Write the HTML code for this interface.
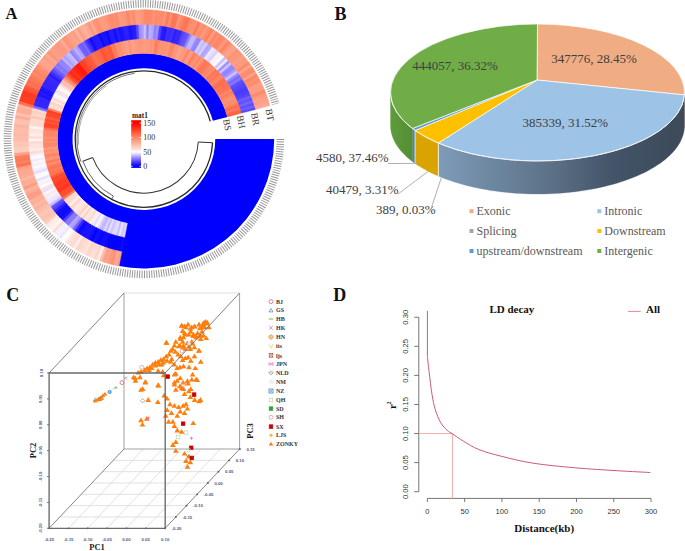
<!DOCTYPE html>
<html><head><meta charset="utf-8"><style>
html,body{margin:0;padding:0;background:#fff;overflow:hidden;}
svg{display:block;}
</style></head><body>
<svg width="685" height="551" viewBox="0 0 685 551">
<rect width="685" height="551" fill="#fff"/>
<g>
<text x="5.5" y="19.3" font-family="Liberation Serif" font-weight="bold" font-size="16.5" fill="#111">A</text>
<text x="334.6" y="20" font-family="Liberation Serif" font-weight="bold" font-size="18" fill="#111">B</text>
<text x="6.2" y="301" font-family="Liberation Serif" font-weight="bold" font-size="18" fill="#111">C</text>
<text x="333.2" y="301.1" font-family="Liberation Serif" font-weight="bold" font-size="18" fill="#111">D</text>
<g id="A">
<g transform="translate(143.9,139.1) scale(1.008,1) translate(-143.9,-139.1)">
<path d="M273.20,139.10A129.3,129.3 0 0 1 117.90,265.76L129.66,208.45A70.8,70.8 0 0 0 214.70,139.10Z" fill="#0000ff"/>
<path d="M127.53,223.32A85.8,85.8 0 1 1 226.78,116.89L212.29,120.78A70.8,70.8 0 1 0 130.39,208.60Z" fill="#0000ff"/>
<path d="M124.74,237.66A100.4,100.4 0 0 1 122.08,237.10L125.26,222.85A85.8,85.8 0 0 0 127.53,223.32Z" fill="#dbd3ff" stroke="#dbd3ff" stroke-width="0.45"/>
<path d="M122.51,237.20A100.4,100.4 0 0 1 119.87,236.58L123.36,222.41A85.8,85.8 0 0 0 125.62,222.93Z" fill="#cdc5ff" stroke="#cdc5ff" stroke-width="0.45"/>
<path d="M120.29,236.68A100.4,100.4 0 0 1 117.66,236.01L121.48,221.92A85.8,85.8 0 0 0 123.72,222.49Z" fill="#eae3ff" stroke="#eae3ff" stroke-width="0.45"/>
<path d="M118.08,236.12A100.4,100.4 0 0 1 115.47,235.39L119.60,221.39A85.8,85.8 0 0 0 121.84,222.02Z" fill="#c4bbff" stroke="#c4bbff" stroke-width="0.45"/>
<path d="M115.89,235.51A100.4,100.4 0 0 1 113.29,234.72L117.74,220.82A85.8,85.8 0 0 0 119.96,221.49Z" fill="#e5ddff" stroke="#e5ddff" stroke-width="0.45"/>
<path d="M113.71,234.85A100.4,100.4 0 0 1 111.13,234.00L115.90,220.20A85.8,85.8 0 0 0 118.10,220.93Z" fill="#dcd4ff" stroke="#dcd4ff" stroke-width="0.45"/>
<path d="M111.54,234.14A100.4,100.4 0 0 1 108.99,233.23L114.06,219.54A85.8,85.8 0 0 0 116.25,220.32Z" fill="#cbc3ff" stroke="#cbc3ff" stroke-width="0.45"/>
<path d="M109.40,233.39A100.4,100.4 0 0 1 106.86,232.42L112.25,218.85A85.8,85.8 0 0 0 114.41,219.67Z" fill="#e6deff" stroke="#e6deff" stroke-width="0.45"/>
<path d="M107.27,232.58A100.4,100.4 0 0 1 104.75,231.55L110.44,218.11A85.8,85.8 0 0 0 112.59,218.98Z" fill="#c4bbff" stroke="#c4bbff" stroke-width="0.45"/>
<path d="M105.16,231.72A100.4,100.4 0 0 1 102.66,230.64L108.66,217.33A85.8,85.8 0 0 0 110.79,218.25Z" fill="#dbd3ff" stroke="#dbd3ff" stroke-width="0.45"/>
<path d="M103.06,230.82A100.4,100.4 0 0 1 100.60,229.68L106.89,216.51A85.8,85.8 0 0 0 109.00,217.48Z" fill="#beb4ff" stroke="#beb4ff" stroke-width="0.45"/>
<path d="M100.99,229.87A100.4,100.4 0 0 1 98.55,228.68L105.15,215.65A85.8,85.8 0 0 0 107.23,216.67Z" fill="#c7bfff" stroke="#c7bfff" stroke-width="0.45"/>
<path d="M98.94,228.87A100.4,100.4 0 0 1 96.53,227.62L103.42,214.75A85.8,85.8 0 0 0 105.48,215.82Z" fill="#e6deff" stroke="#e6deff" stroke-width="0.45"/>
<path d="M96.92,227.83A100.4,100.4 0 0 1 94.54,226.53L101.72,213.81A85.8,85.8 0 0 0 103.75,214.93Z" fill="#fef5f2" stroke="#fef5f2" stroke-width="0.45"/>
<path d="M94.92,226.74A100.4,100.4 0 0 1 92.57,225.38L100.03,212.84A85.8,85.8 0 0 0 102.04,214.00Z" fill="#e6deff" stroke="#e6deff" stroke-width="0.45"/>
<path d="M92.94,225.61A100.4,100.4 0 0 1 90.62,224.20L98.37,211.82A85.8,85.8 0 0 0 100.35,213.03Z" fill="#f2eeff" stroke="#f2eeff" stroke-width="0.45"/>
<path d="M90.99,224.43A100.4,100.4 0 0 1 88.70,222.97L96.73,210.77A85.8,85.8 0 0 0 98.69,212.02Z" fill="#feece7" stroke="#feece7" stroke-width="0.45"/>
<path d="M89.07,223.21A100.4,100.4 0 0 1 86.82,221.69L95.12,209.68A85.8,85.8 0 0 0 97.04,210.98Z" fill="#fddad1" stroke="#fddad1" stroke-width="0.45"/>
<path d="M87.18,221.94A100.4,100.4 0 0 1 84.96,220.38L93.53,208.56A85.8,85.8 0 0 0 95.43,209.89Z" fill="#fde4dd" stroke="#fde4dd" stroke-width="0.45"/>
<path d="M85.31,220.63A100.4,100.4 0 0 1 83.13,219.02L91.97,207.40A85.8,85.8 0 0 0 93.83,208.78Z" fill="#fde7e1" stroke="#fde7e1" stroke-width="0.45"/>
<path d="M83.48,219.28A100.4,100.4 0 0 1 81.33,217.62L90.43,206.20A85.8,85.8 0 0 0 92.26,207.62Z" fill="#fcd1c3" stroke="#fcd1c3" stroke-width="0.45"/>
<path d="M81.67,217.89A100.4,100.4 0 0 1 79.57,216.18L88.92,204.97A85.8,85.8 0 0 0 90.72,206.43Z" fill="#feece8" stroke="#feece8" stroke-width="0.45"/>
<path d="M79.90,216.46A100.4,100.4 0 0 1 77.83,214.70L87.44,203.71A85.8,85.8 0 0 0 89.21,205.21Z" fill="#fccec0" stroke="#fccec0" stroke-width="0.45"/>
<path d="M78.16,214.99A100.4,100.4 0 0 1 76.14,213.18L85.99,202.41A85.8,85.8 0 0 0 87.72,203.95Z" fill="#fdddd4" stroke="#fdddd4" stroke-width="0.45"/>
<path d="M76.46,213.48A100.4,100.4 0 0 1 74.47,211.63L84.57,201.08A85.8,85.8 0 0 0 86.27,202.66Z" fill="#fde5de" stroke="#fde5de" stroke-width="0.45"/>
<path d="M74.79,211.93A100.4,100.4 0 0 1 72.84,210.03L83.18,199.72A85.8,85.8 0 0 0 84.84,201.34Z" fill="#fee9e3" stroke="#fee9e3" stroke-width="0.45"/>
<path d="M73.15,210.34A100.4,100.4 0 0 1 71.25,208.40L81.82,198.32A85.8,85.8 0 0 0 83.44,199.98Z" fill="#fde0d8" stroke="#fde0d8" stroke-width="0.45"/>
<path d="M71.56,208.72A100.4,100.4 0 0 1 69.70,206.74L80.49,196.90A85.8,85.8 0 0 0 82.08,198.59Z" fill="#fdd4c8" stroke="#fdd4c8" stroke-width="0.45"/>
<path d="M70.00,207.06A100.4,100.4 0 0 1 68.18,205.03L79.20,195.45A85.8,85.8 0 0 0 80.74,197.18Z" fill="#feefea" stroke="#feefea" stroke-width="0.45"/>
<path d="M68.47,205.36A100.4,100.4 0 0 1 66.71,203.30L77.93,193.96A85.8,85.8 0 0 0 79.44,195.73Z" fill="#fdddd4" stroke="#fdddd4" stroke-width="0.45"/>
<path d="M66.99,203.64A100.4,100.4 0 0 1 65.27,201.53L76.71,192.45A85.8,85.8 0 0 0 78.17,194.25Z" fill="#fdd9cf" stroke="#fdd9cf" stroke-width="0.45"/>
<path d="M65.54,201.87A100.4,100.4 0 0 1 63.88,199.73L75.51,190.91A85.8,85.8 0 0 0 76.94,192.75Z" fill="#fddad0" stroke="#fddad0" stroke-width="0.45"/>
<path d="M64.14,200.08A100.4,100.4 0 0 1 62.52,197.90L74.35,189.35A85.8,85.8 0 0 0 75.74,191.21Z" fill="#fd7e5e" stroke="#fd7e5e" stroke-width="0.45"/>
<path d="M62.78,198.26A100.4,100.4 0 0 1 61.21,196.04L73.23,187.76A85.8,85.8 0 0 0 74.57,189.65Z" fill="#ff5232" stroke="#ff5232" stroke-width="0.45"/>
<path d="M61.46,196.40A100.4,100.4 0 0 1 59.94,194.15L72.15,186.14A85.8,85.8 0 0 0 73.45,188.07Z" fill="#ff4f2f" stroke="#ff4f2f" stroke-width="0.45"/>
<path d="M60.18,194.51A100.4,100.4 0 0 1 58.71,192.23L71.10,184.50A85.8,85.8 0 0 0 72.35,186.46Z" fill="#ff472a" stroke="#ff472a" stroke-width="0.45"/>
<path d="M58.94,192.60A100.4,100.4 0 0 1 57.53,190.28L70.09,182.84A85.8,85.8 0 0 0 71.30,184.82Z" fill="#ff341b" stroke="#ff341b" stroke-width="0.45"/>
<path d="M57.75,190.66A100.4,100.4 0 0 1 56.39,188.31L69.11,181.15A85.8,85.8 0 0 0 70.28,183.16Z" fill="#ff3a20" stroke="#ff3a20" stroke-width="0.45"/>
<path d="M56.60,188.69A100.4,100.4 0 0 1 55.29,186.31L68.18,179.45A85.8,85.8 0 0 0 69.30,181.48Z" fill="#ff4024" stroke="#ff4024" stroke-width="0.45"/>
<path d="M55.50,186.70A100.4,100.4 0 0 1 54.24,184.29L67.28,177.72A85.8,85.8 0 0 0 68.36,179.78Z" fill="#ff3a20" stroke="#ff3a20" stroke-width="0.45"/>
<path d="M54.44,184.68A100.4,100.4 0 0 1 53.24,182.24L66.43,175.97A85.8,85.8 0 0 0 67.45,178.05Z" fill="#ff4225" stroke="#ff4225" stroke-width="0.45"/>
<path d="M53.43,182.64A100.4,100.4 0 0 1 52.29,180.18L65.61,174.20A85.8,85.8 0 0 0 66.59,176.31Z" fill="#ff4a2c" stroke="#ff4a2c" stroke-width="0.45"/>
<path d="M52.47,180.58A100.4,100.4 0 0 1 51.38,178.09L64.83,172.42A85.8,85.8 0 0 0 65.76,174.54Z" fill="#ff4628" stroke="#ff4628" stroke-width="0.45"/>
<path d="M51.55,178.49A100.4,100.4 0 0 1 50.52,175.98L64.10,170.62A85.8,85.8 0 0 0 64.98,172.76Z" fill="#ff5737" stroke="#ff5737" stroke-width="0.45"/>
<path d="M50.68,176.39A100.4,100.4 0 0 1 49.71,173.85L63.40,168.80A85.8,85.8 0 0 0 64.24,170.96Z" fill="#fd7555" stroke="#fd7555" stroke-width="0.45"/>
<path d="M49.86,174.26A100.4,100.4 0 0 1 48.94,171.70L62.75,166.96A85.8,85.8 0 0 0 63.53,169.15Z" fill="#fd7656" stroke="#fd7656" stroke-width="0.45"/>
<path d="M49.08,172.12A100.4,100.4 0 0 1 48.23,169.54L62.14,165.11A85.8,85.8 0 0 0 62.87,167.32Z" fill="#fd7b5b" stroke="#fd7b5b" stroke-width="0.45"/>
<path d="M48.36,169.96A100.4,100.4 0 0 1 47.56,167.36L61.57,163.25A85.8,85.8 0 0 0 62.25,165.47Z" fill="#fd7454" stroke="#fd7454" stroke-width="0.45"/>
<path d="M47.68,167.78A100.4,100.4 0 0 1 46.94,165.17L61.04,161.38A85.8,85.8 0 0 0 61.68,163.61Z" fill="#fd7d5d" stroke="#fd7d5d" stroke-width="0.45"/>
<path d="M47.06,165.59A100.4,100.4 0 0 1 46.38,162.96L60.56,159.49A85.8,85.8 0 0 0 61.14,161.74Z" fill="#fd9070" stroke="#fd9070" stroke-width="0.45"/>
<path d="M46.48,163.39A100.4,100.4 0 0 1 45.86,160.74L60.12,157.60A85.8,85.8 0 0 0 60.65,159.86Z" fill="#fd7959" stroke="#fd7959" stroke-width="0.45"/>
<path d="M45.96,161.17A100.4,100.4 0 0 1 45.40,158.52L59.72,155.69A85.8,85.8 0 0 0 60.20,157.96Z" fill="#fd9679" stroke="#fd9679" stroke-width="0.45"/>
<path d="M45.48,158.94A100.4,100.4 0 0 1 44.98,156.28L59.36,153.78A85.8,85.8 0 0 0 59.79,156.06Z" fill="#fd8d6d" stroke="#fd8d6d" stroke-width="0.45"/>
<path d="M45.06,156.71A100.4,100.4 0 0 1 44.62,154.03L59.05,151.86A85.8,85.8 0 0 0 59.43,154.15Z" fill="#fd8363" stroke="#fd8363" stroke-width="0.45"/>
<path d="M44.68,154.46A100.4,100.4 0 0 1 44.30,151.77L58.79,149.93A85.8,85.8 0 0 0 59.11,152.23Z" fill="#fd977b" stroke="#fd977b" stroke-width="0.45"/>
<path d="M44.36,152.20A100.4,100.4 0 0 1 44.04,149.51L58.56,147.99A85.8,85.8 0 0 0 58.83,150.30Z" fill="#fd8f6f" stroke="#fd8f6f" stroke-width="0.45"/>
<path d="M44.09,149.94A100.4,100.4 0 0 1 43.83,147.24L58.38,146.06A85.8,85.8 0 0 0 58.60,148.37Z" fill="#fc9c83" stroke="#fc9c83" stroke-width="0.45"/>
<path d="M43.87,147.68A100.4,100.4 0 0 1 43.67,144.97L58.25,144.11A85.8,85.8 0 0 0 58.41,146.43Z" fill="#fd8a6a" stroke="#fd8a6a" stroke-width="0.45"/>
<path d="M43.70,145.40A100.4,100.4 0 0 1 43.56,142.69L58.15,142.17A85.8,85.8 0 0 0 58.27,144.49Z" fill="#fd8767" stroke="#fd8767" stroke-width="0.45"/>
<path d="M43.58,143.13A100.4,100.4 0 0 1 43.51,140.41L58.11,140.22A85.8,85.8 0 0 0 58.17,142.54Z" fill="#fd8d6d" stroke="#fd8d6d" stroke-width="0.45"/>
<path d="M43.52,140.85A100.4,100.4 0 0 1 43.50,138.14L58.10,138.28A85.8,85.8 0 0 0 58.11,140.60Z" fill="#fd8363" stroke="#fd8363" stroke-width="0.45"/>
<path d="M43.50,138.57A100.4,100.4 0 0 1 43.55,135.86L58.14,136.33A85.8,85.8 0 0 0 58.10,138.65Z" fill="#fd9476" stroke="#fd9476" stroke-width="0.45"/>
<path d="M43.54,136.30A100.4,100.4 0 0 1 43.65,133.58L58.23,134.39A85.8,85.8 0 0 0 58.13,136.70Z" fill="#fd8666" stroke="#fd8666" stroke-width="0.45"/>
<path d="M43.63,134.02A100.4,100.4 0 0 1 43.80,131.31L58.36,132.44A85.8,85.8 0 0 0 58.21,134.76Z" fill="#fd8767" stroke="#fd8767" stroke-width="0.45"/>
<path d="M43.77,131.75A100.4,100.4 0 0 1 44.01,129.04L58.53,130.50A85.8,85.8 0 0 0 58.33,132.82Z" fill="#fd8666" stroke="#fd8666" stroke-width="0.45"/>
<path d="M43.96,129.48A100.4,100.4 0 0 1 44.26,126.78L58.75,128.57A85.8,85.8 0 0 0 58.50,130.88Z" fill="#fd6f4f" stroke="#fd6f4f" stroke-width="0.45"/>
<path d="M44.21,127.21A100.4,100.4 0 0 1 44.56,124.52L59.01,126.64A85.8,85.8 0 0 0 58.70,128.94Z" fill="#ff492b" stroke="#ff492b" stroke-width="0.45"/>
<path d="M44.50,124.95A100.4,100.4 0 0 1 44.92,122.27L59.31,124.72A85.8,85.8 0 0 0 58.96,127.01Z" fill="#ff4427" stroke="#ff4427" stroke-width="0.45"/>
<path d="M44.85,122.70A100.4,100.4 0 0 1 45.33,120.03L59.66,122.80A85.8,85.8 0 0 0 59.25,125.09Z" fill="#ff5333" stroke="#ff5333" stroke-width="0.45"/>
<path d="M45.25,120.46A100.4,100.4 0 0 1 45.79,117.80L60.05,120.90A85.8,85.8 0 0 0 59.59,123.17Z" fill="#ff4b2c" stroke="#ff4b2c" stroke-width="0.45"/>
<path d="M45.69,118.23A100.4,100.4 0 0 1 46.29,115.58L60.49,119.00A85.8,85.8 0 0 0 59.97,121.26Z" fill="#fe6040" stroke="#fe6040" stroke-width="0.45"/>
<path d="M46.19,116.00A100.4,100.4 0 0 1 46.85,113.37L60.97,117.11A85.8,85.8 0 0 0 60.40,119.36Z" fill="#ff4729" stroke="#ff4729" stroke-width="0.45"/>
<path d="M46.74,113.79A100.4,100.4 0 0 1 47.46,111.17L61.49,115.23A85.8,85.8 0 0 0 60.87,117.47Z" fill="#ff482a" stroke="#ff482a" stroke-width="0.45"/>
<path d="M47.34,111.59A100.4,100.4 0 0 1 48.12,108.99L62.05,113.37A85.8,85.8 0 0 0 61.38,115.59Z" fill="#ff3b20" stroke="#ff3b20" stroke-width="0.45"/>
<path d="M47.99,109.41A100.4,100.4 0 0 1 48.83,106.83L62.65,111.52A85.8,85.8 0 0 0 61.94,113.73Z" fill="#fd8363" stroke="#fd8363" stroke-width="0.45"/>
<path d="M48.69,107.24A100.4,100.4 0 0 1 49.58,104.68L63.30,109.68A85.8,85.8 0 0 0 62.53,111.88Z" fill="#fde0d8" stroke="#fde0d8" stroke-width="0.45"/>
<path d="M49.44,105.09A100.4,100.4 0 0 1 50.39,102.55L63.99,107.86A85.8,85.8 0 0 0 63.17,110.04Z" fill="#fddcd3" stroke="#fddcd3" stroke-width="0.45"/>
<path d="M50.23,102.96A100.4,100.4 0 0 1 51.24,100.44L64.72,106.06A85.8,85.8 0 0 0 63.85,108.21Z" fill="#fdd4c8" stroke="#fdd4c8" stroke-width="0.45"/>
<path d="M51.08,100.84A100.4,100.4 0 0 1 52.14,98.34L65.49,104.27A85.8,85.8 0 0 0 64.57,106.40Z" fill="#fee9e4" stroke="#fee9e4" stroke-width="0.45"/>
<path d="M51.97,98.74A100.4,100.4 0 0 1 53.09,96.27L66.30,102.50A85.8,85.8 0 0 0 65.34,104.61Z" fill="#fdd9cf" stroke="#fdd9cf" stroke-width="0.45"/>
<path d="M52.91,96.67A100.4,100.4 0 0 1 54.09,94.22L67.15,100.75A85.8,85.8 0 0 0 66.14,102.84Z" fill="#fef1ed" stroke="#fef1ed" stroke-width="0.45"/>
<path d="M53.89,94.62A100.4,100.4 0 0 1 55.13,92.20L68.04,99.02A85.8,85.8 0 0 0 66.98,101.08Z" fill="#fcfaff" stroke="#fcfaff" stroke-width="0.45"/>
<path d="M54.93,92.59A100.4,100.4 0 0 1 56.22,90.20L68.97,97.31A85.8,85.8 0 0 0 67.86,99.35Z" fill="#ede6ff" stroke="#ede6ff" stroke-width="0.45"/>
<path d="M56.00,90.58A100.4,100.4 0 0 1 57.35,88.22L69.93,95.62A85.8,85.8 0 0 0 68.79,97.63Z" fill="#fde0d8" stroke="#fde0d8" stroke-width="0.45"/>
<path d="M57.13,88.60A100.4,100.4 0 0 1 58.52,86.27L70.94,93.95A85.8,85.8 0 0 0 69.75,95.94Z" fill="#faf8ff" stroke="#faf8ff" stroke-width="0.45"/>
<path d="M58.29,86.64A100.4,100.4 0 0 1 59.75,84.34L71.98,92.31A85.8,85.8 0 0 0 70.74,94.27Z" fill="#fef5f3" stroke="#fef5f3" stroke-width="0.45"/>
<path d="M59.51,84.71A100.4,100.4 0 0 1 61.01,82.45L73.06,90.69A85.8,85.8 0 0 0 71.78,92.62Z" fill="#fdd9cf" stroke="#fdd9cf" stroke-width="0.45"/>
<path d="M60.76,82.81A100.4,100.4 0 0 1 62.32,80.58L74.18,89.09A85.8,85.8 0 0 0 72.85,91.00Z" fill="#fcbfac" stroke="#fcbfac" stroke-width="0.45"/>
<path d="M62.06,80.94A100.4,100.4 0 0 1 63.66,78.75L75.33,87.52A85.8,85.8 0 0 0 73.96,89.40Z" fill="#fcc1af" stroke="#fcc1af" stroke-width="0.45"/>
<path d="M63.40,79.10A100.4,100.4 0 0 1 65.05,76.94L76.52,85.98A85.8,85.8 0 0 0 75.11,87.82Z" fill="#fc9c82" stroke="#fc9c82" stroke-width="0.45"/>
<path d="M64.78,77.29A100.4,100.4 0 0 1 66.48,75.17L77.74,84.47A85.8,85.8 0 0 0 76.29,86.28Z" fill="#fd8060" stroke="#fd8060" stroke-width="0.45"/>
<path d="M66.21,75.51A100.4,100.4 0 0 1 67.95,73.43L79.00,82.98A85.8,85.8 0 0 0 77.50,84.76Z" fill="#fe5737" stroke="#fe5737" stroke-width="0.45"/>
<path d="M67.67,73.76A100.4,100.4 0 0 1 69.46,71.72L80.29,81.52A85.8,85.8 0 0 0 78.75,83.26Z" fill="#ff3d21" stroke="#ff3d21" stroke-width="0.45"/>
<path d="M69.17,72.05A100.4,100.4 0 0 1 71.01,70.05L81.61,80.09A85.8,85.8 0 0 0 80.04,81.80Z" fill="#ff2613" stroke="#ff2613" stroke-width="0.45"/>
<path d="M70.71,70.37A100.4,100.4 0 0 1 72.60,68.42L82.97,78.70A85.8,85.8 0 0 0 81.35,80.37Z" fill="#ff341b" stroke="#ff341b" stroke-width="0.45"/>
<path d="M72.29,68.73A100.4,100.4 0 0 1 74.22,66.82L84.35,77.33A85.8,85.8 0 0 0 82.70,78.96Z" fill="#ff2613" stroke="#ff2613" stroke-width="0.45"/>
<path d="M73.90,67.12A100.4,100.4 0 0 1 75.88,65.26L85.77,75.99A85.8,85.8 0 0 0 84.08,77.59Z" fill="#ff2412" stroke="#ff2412" stroke-width="0.45"/>
<path d="M75.56,65.55A100.4,100.4 0 0 1 77.57,63.73L87.22,74.69A85.8,85.8 0 0 0 85.49,76.25Z" fill="#ff150b" stroke="#ff150b" stroke-width="0.45"/>
<path d="M77.24,64.02A100.4,100.4 0 0 1 79.30,62.25L88.69,73.42A85.8,85.8 0 0 0 86.94,74.94Z" fill="#ff180c" stroke="#ff180c" stroke-width="0.45"/>
<path d="M78.96,62.53A100.4,100.4 0 0 1 81.06,60.80L90.20,72.19A85.8,85.8 0 0 0 88.41,73.66Z" fill="#ff3d21" stroke="#ff3d21" stroke-width="0.45"/>
<path d="M80.72,61.07A100.4,100.4 0 0 1 82.85,59.39L91.73,70.98A85.8,85.8 0 0 0 89.90,72.42Z" fill="#ff4125" stroke="#ff4125" stroke-width="0.45"/>
<path d="M82.50,59.66A100.4,100.4 0 0 1 84.67,58.03L93.29,69.82A85.8,85.8 0 0 0 91.43,71.21Z" fill="#ff492b" stroke="#ff492b" stroke-width="0.45"/>
<path d="M84.32,58.29A100.4,100.4 0 0 1 86.53,56.71L94.87,68.69A85.8,85.8 0 0 0 92.98,70.04Z" fill="#ff5636" stroke="#ff5636" stroke-width="0.45"/>
<path d="M86.17,56.96A100.4,100.4 0 0 1 88.41,55.43L96.48,67.59A85.8,85.8 0 0 0 94.56,68.90Z" fill="#fe5a3a" stroke="#fe5a3a" stroke-width="0.45"/>
<path d="M88.05,55.67A100.4,100.4 0 0 1 90.33,54.19L98.12,66.54A85.8,85.8 0 0 0 96.17,67.80Z" fill="#fe5c3c" stroke="#fe5c3c" stroke-width="0.45"/>
<path d="M89.96,54.42A100.4,100.4 0 0 1 92.27,53.00L99.77,65.52A85.8,85.8 0 0 0 97.80,66.74Z" fill="#fd6c4c" stroke="#fd6c4c" stroke-width="0.45"/>
<path d="M91.89,53.22A100.4,100.4 0 0 1 94.23,51.85L101.45,64.53A85.8,85.8 0 0 0 99.45,65.71Z" fill="#fd7656" stroke="#fd7656" stroke-width="0.45"/>
<path d="M93.85,52.06A100.4,100.4 0 0 1 96.22,50.74L103.16,63.59A85.8,85.8 0 0 0 101.13,64.72Z" fill="#fd6949" stroke="#fd6949" stroke-width="0.45"/>
<path d="M95.84,50.95A100.4,100.4 0 0 1 98.24,49.68L104.88,62.69A85.8,85.8 0 0 0 102.83,63.77Z" fill="#fd6a4a" stroke="#fd6a4a" stroke-width="0.45"/>
<path d="M97.85,49.88A100.4,100.4 0 0 1 100.28,48.67L106.62,61.82A85.8,85.8 0 0 0 104.55,62.86Z" fill="#fe6141" stroke="#fe6141" stroke-width="0.45"/>
<path d="M99.89,48.86A100.4,100.4 0 0 1 102.34,47.70L108.39,60.99A85.8,85.8 0 0 0 106.29,61.98Z" fill="#ff5131" stroke="#ff5131" stroke-width="0.45"/>
<path d="M101.95,47.89A100.4,100.4 0 0 1 104.43,46.78L110.17,60.21A85.8,85.8 0 0 0 108.05,61.15Z" fill="#fe5a3a" stroke="#fe5a3a" stroke-width="0.45"/>
<path d="M104.03,46.96A100.4,100.4 0 0 1 106.53,45.91L111.97,59.46A85.8,85.8 0 0 0 109.82,60.36Z" fill="#fe6040" stroke="#fe6040" stroke-width="0.45"/>
<path d="M106.13,46.08A100.4,100.4 0 0 1 108.66,45.09L113.78,58.76A85.8,85.8 0 0 0 111.62,59.60Z" fill="#fe5b3b" stroke="#fe5b3b" stroke-width="0.45"/>
<path d="M108.25,45.24A100.4,100.4 0 0 1 110.80,44.31L115.61,58.10A85.8,85.8 0 0 0 113.43,58.89Z" fill="#fe5737" stroke="#fe5737" stroke-width="0.45"/>
<path d="M110.39,44.46A100.4,100.4 0 0 1 112.96,43.59L117.46,57.48A85.8,85.8 0 0 0 115.26,58.22Z" fill="#fd8060" stroke="#fd8060" stroke-width="0.45"/>
<path d="M112.54,43.72A100.4,100.4 0 0 1 115.13,42.91L119.32,56.90A85.8,85.8 0 0 0 117.10,57.59Z" fill="#fd7757" stroke="#fd7757" stroke-width="0.45"/>
<path d="M114.71,43.04A100.4,100.4 0 0 1 117.32,42.28L121.19,56.36A85.8,85.8 0 0 0 118.96,57.01Z" fill="#fd8f6f" stroke="#fd8f6f" stroke-width="0.45"/>
<path d="M116.90,42.40A100.4,100.4 0 0 1 119.53,41.70L123.07,55.87A85.8,85.8 0 0 0 120.83,56.46Z" fill="#fd8f6f" stroke="#fd8f6f" stroke-width="0.45"/>
<path d="M119.10,41.81A100.4,100.4 0 0 1 121.74,41.18L124.96,55.42A85.8,85.8 0 0 0 122.71,55.96Z" fill="#fd9070" stroke="#fd9070" stroke-width="0.45"/>
<path d="M121.31,41.27A100.4,100.4 0 0 1 123.97,40.70L126.87,55.01A85.8,85.8 0 0 0 124.60,55.50Z" fill="#fc9b80" stroke="#fc9b80" stroke-width="0.45"/>
<path d="M123.54,40.79A100.4,100.4 0 0 1 126.21,40.27L128.78,54.64A85.8,85.8 0 0 0 126.50,55.08Z" fill="#fc9a7e" stroke="#fc9a7e" stroke-width="0.45"/>
<path d="M125.78,40.35A100.4,100.4 0 0 1 128.45,39.90L130.70,54.32A85.8,85.8 0 0 0 128.41,54.71Z" fill="#fca189" stroke="#fca189" stroke-width="0.45"/>
<path d="M128.02,39.96A100.4,100.4 0 0 1 130.71,39.57L132.63,54.04A85.8,85.8 0 0 0 130.33,54.38Z" fill="#fd9171" stroke="#fd9171" stroke-width="0.45"/>
<path d="M130.27,39.63A100.4,100.4 0 0 1 132.97,39.30L134.56,53.81A85.8,85.8 0 0 0 132.26,54.09Z" fill="#fca088" stroke="#fca088" stroke-width="0.45"/>
<path d="M132.53,39.35A100.4,100.4 0 0 1 135.24,39.07L136.50,53.62A85.8,85.8 0 0 0 134.19,53.85Z" fill="#fc9f86" stroke="#fc9f86" stroke-width="0.45"/>
<path d="M134.80,39.11A100.4,100.4 0 0 1 137.51,38.90L138.44,53.47A85.8,85.8 0 0 0 136.12,53.65Z" fill="#fc9a7f" stroke="#fc9a7f" stroke-width="0.45"/>
<path d="M137.07,38.93A100.4,100.4 0 0 1 139.78,38.78L140.38,53.37A85.8,85.8 0 0 0 138.06,53.50Z" fill="#fc9a7f" stroke="#fc9a7f" stroke-width="0.45"/>
<path d="M139.35,38.80A100.4,100.4 0 0 1 142.06,38.72L142.33,53.31A85.8,85.8 0 0 0 140.01,53.39Z" fill="#fd9476" stroke="#fd9476" stroke-width="0.45"/>
<path d="M141.62,38.73A100.4,100.4 0 0 1 144.34,38.70L144.27,53.30A85.8,85.8 0 0 0 141.95,53.32Z" fill="#fc9b81" stroke="#fc9b81" stroke-width="0.45"/>
<path d="M143.90,38.70A100.4,100.4 0 0 1 146.62,38.74L146.22,53.33A85.8,85.8 0 0 0 143.90,53.30Z" fill="#fc9c82" stroke="#fc9c82" stroke-width="0.45"/>
<path d="M146.18,38.73A100.4,100.4 0 0 1 148.89,38.82L148.17,53.41A85.8,85.8 0 0 0 145.85,53.32Z" fill="#fd977a" stroke="#fd977a" stroke-width="0.45"/>
<path d="M148.45,38.80A100.4,100.4 0 0 1 151.17,38.96L150.11,53.52A85.8,85.8 0 0 0 147.79,53.39Z" fill="#fd987c" stroke="#fd987c" stroke-width="0.45"/>
<path d="M150.73,38.93A100.4,100.4 0 0 1 153.44,39.15L152.05,53.69A85.8,85.8 0 0 0 149.74,53.50Z" fill="#fd9070" stroke="#fd9070" stroke-width="0.45"/>
<path d="M153.00,39.11A100.4,100.4 0 0 1 155.70,39.40L153.98,53.89A85.8,85.8 0 0 0 151.68,53.65Z" fill="#fc997d" stroke="#fc997d" stroke-width="0.45"/>
<path d="M155.27,39.35A100.4,100.4 0 0 1 157.96,39.69L155.92,54.15A85.8,85.8 0 0 0 153.61,53.85Z" fill="#fd7d5d" stroke="#fd7d5d" stroke-width="0.45"/>
<path d="M157.53,39.63A100.4,100.4 0 0 1 160.21,40.03L157.84,54.44A85.8,85.8 0 0 0 155.54,54.09Z" fill="#fd8565" stroke="#fd8565" stroke-width="0.45"/>
<path d="M159.78,39.96A100.4,100.4 0 0 1 162.45,40.43L159.76,54.78A85.8,85.8 0 0 0 157.47,54.38Z" fill="#fd9476" stroke="#fd9476" stroke-width="0.45"/>
<path d="M162.02,40.35A100.4,100.4 0 0 1 164.69,40.88L161.67,55.16A85.8,85.8 0 0 0 159.39,54.71Z" fill="#fd9273" stroke="#fd9273" stroke-width="0.45"/>
<path d="M164.26,40.79A100.4,100.4 0 0 1 166.91,41.37L163.57,55.58A85.8,85.8 0 0 0 161.30,55.08Z" fill="#fd9172" stroke="#fd9172" stroke-width="0.45"/>
<path d="M166.49,41.27A100.4,100.4 0 0 1 169.12,41.92L165.46,56.05A85.8,85.8 0 0 0 163.20,55.50Z" fill="#fd9273" stroke="#fd9273" stroke-width="0.45"/>
<path d="M168.70,41.81A100.4,100.4 0 0 1 171.32,42.52L167.33,56.56A85.8,85.8 0 0 0 165.09,55.96Z" fill="#fc9b80" stroke="#fc9b80" stroke-width="0.45"/>
<path d="M170.90,42.40A100.4,100.4 0 0 1 173.51,43.16L169.20,57.12A85.8,85.8 0 0 0 166.97,56.46Z" fill="#fd8666" stroke="#fd8666" stroke-width="0.45"/>
<path d="M173.09,43.04A100.4,100.4 0 0 1 175.67,43.86L171.05,57.71A85.8,85.8 0 0 0 168.84,57.01Z" fill="#fd8363" stroke="#fd8363" stroke-width="0.45"/>
<path d="M175.26,43.72A100.4,100.4 0 0 1 177.83,44.61L172.89,58.35A85.8,85.8 0 0 0 170.70,57.59Z" fill="#fd9678" stroke="#fd9678" stroke-width="0.45"/>
<path d="M177.41,44.46A100.4,100.4 0 0 1 179.96,45.40L174.72,59.03A85.8,85.8 0 0 0 172.54,58.22Z" fill="#fd9679" stroke="#fd9679" stroke-width="0.45"/>
<path d="M179.55,45.24A100.4,100.4 0 0 1 182.08,46.24L176.53,59.75A85.8,85.8 0 0 0 174.37,58.89Z" fill="#fca089" stroke="#fca089" stroke-width="0.45"/>
<path d="M181.67,46.08A100.4,100.4 0 0 1 184.18,47.13L178.32,60.51A85.8,85.8 0 0 0 176.18,59.60Z" fill="#fc9f86" stroke="#fc9f86" stroke-width="0.45"/>
<path d="M183.77,46.96A100.4,100.4 0 0 1 186.25,48.07L180.09,61.31A85.8,85.8 0 0 0 177.98,60.36Z" fill="#fd977b" stroke="#fd977b" stroke-width="0.45"/>
<path d="M185.85,47.89A100.4,100.4 0 0 1 188.31,49.05L181.85,62.15A85.8,85.8 0 0 0 179.75,61.15Z" fill="#fc987c" stroke="#fc987c" stroke-width="0.45"/>
<path d="M187.91,48.86A100.4,100.4 0 0 1 190.34,50.08L183.58,63.03A85.8,85.8 0 0 0 181.51,61.98Z" fill="#fd8565" stroke="#fd8565" stroke-width="0.45"/>
<path d="M189.95,49.88A100.4,100.4 0 0 1 192.34,51.16L185.30,63.95A85.8,85.8 0 0 0 183.25,62.86Z" fill="#fc997e" stroke="#fc997e" stroke-width="0.45"/>
<path d="M191.96,50.95A100.4,100.4 0 0 1 194.33,52.28L186.99,64.91A85.8,85.8 0 0 0 184.97,63.77Z" fill="#fc9c82" stroke="#fc9c82" stroke-width="0.45"/>
<path d="M193.95,52.06A100.4,100.4 0 0 1 196.28,53.45L188.67,65.90A85.8,85.8 0 0 0 186.67,64.72Z" fill="#fd7d5d" stroke="#fd7d5d" stroke-width="0.45"/>
<path d="M195.91,53.22A100.4,100.4 0 0 1 198.21,54.66L190.32,66.94A85.8,85.8 0 0 0 188.35,65.71Z" fill="#fd8b6b" stroke="#fd8b6b" stroke-width="0.45"/>
<path d="M197.84,54.42A100.4,100.4 0 0 1 200.12,55.91L191.94,68.01A85.8,85.8 0 0 0 190.00,66.74Z" fill="#fd9578" stroke="#fd9578" stroke-width="0.45"/>
<path d="M199.75,55.67A100.4,100.4 0 0 1 201.99,57.21L193.54,69.12A85.8,85.8 0 0 0 191.63,67.80Z" fill="#fd8868" stroke="#fd8868" stroke-width="0.45"/>
<path d="M201.63,56.96A100.4,100.4 0 0 1 203.83,58.55L195.12,70.26A85.8,85.8 0 0 0 193.24,68.90Z" fill="#fd977a" stroke="#fd977a" stroke-width="0.45"/>
<path d="M203.48,58.29A100.4,100.4 0 0 1 205.64,59.93L196.66,71.44A85.8,85.8 0 0 0 194.82,70.04Z" fill="#fd8565" stroke="#fd8565" stroke-width="0.45"/>
<path d="M205.30,59.66A100.4,100.4 0 0 1 207.42,61.35L198.19,72.66A85.8,85.8 0 0 0 196.37,71.21Z" fill="#fd7555" stroke="#fd7555" stroke-width="0.45"/>
<path d="M207.08,61.07A100.4,100.4 0 0 1 209.17,62.81L199.68,73.91A85.8,85.8 0 0 0 197.90,72.42Z" fill="#fd7858" stroke="#fd7858" stroke-width="0.45"/>
<path d="M208.84,62.53A100.4,100.4 0 0 1 210.89,64.31L201.14,75.19A85.8,85.8 0 0 0 199.39,73.66Z" fill="#fd7c5c" stroke="#fd7c5c" stroke-width="0.45"/>
<path d="M210.56,64.02A100.4,100.4 0 0 1 212.56,65.85L202.58,76.50A85.8,85.8 0 0 0 200.86,74.94Z" fill="#fd8a6a" stroke="#fd8a6a" stroke-width="0.45"/>
<path d="M212.24,65.55A100.4,100.4 0 0 1 214.21,67.43L203.98,77.85A85.8,85.8 0 0 0 202.31,76.25Z" fill="#fd8666" stroke="#fd8666" stroke-width="0.45"/>
<path d="M213.90,67.12A100.4,100.4 0 0 1 215.82,69.04L205.36,79.23A85.8,85.8 0 0 0 203.72,77.59Z" fill="#fd8c6c" stroke="#fd8c6c" stroke-width="0.45"/>
<path d="M215.51,68.73A100.4,100.4 0 0 1 217.39,70.69L206.70,80.64A85.8,85.8 0 0 0 205.10,78.96Z" fill="#fd7656" stroke="#fd7656" stroke-width="0.45"/>
<path d="M217.09,70.37A100.4,100.4 0 0 1 218.92,72.38L208.01,82.08A85.8,85.8 0 0 0 206.45,80.37Z" fill="#fd7d5d" stroke="#fd7d5d" stroke-width="0.45"/>
<path d="M218.63,72.05A100.4,100.4 0 0 1 220.42,74.10L209.29,83.55A85.8,85.8 0 0 0 207.76,81.80Z" fill="#fd7454" stroke="#fd7454" stroke-width="0.45"/>
<path d="M220.13,73.76A100.4,100.4 0 0 1 221.87,75.85L210.53,85.05A85.8,85.8 0 0 0 209.05,83.26Z" fill="#fd8262" stroke="#fd8262" stroke-width="0.45"/>
<path d="M221.59,75.51A100.4,100.4 0 0 1 223.29,77.63L211.74,86.57A85.8,85.8 0 0 0 210.30,84.76Z" fill="#fd8666" stroke="#fd8666" stroke-width="0.45"/>
<path d="M223.02,77.29A100.4,100.4 0 0 1 224.66,79.45L212.92,88.12A85.8,85.8 0 0 0 211.51,86.28Z" fill="#fd7353" stroke="#fd7353" stroke-width="0.45"/>
<path d="M224.40,79.10A100.4,100.4 0 0 1 225.99,81.30L214.05,89.70A85.8,85.8 0 0 0 212.69,87.82Z" fill="#fd6d4d" stroke="#fd6d4d" stroke-width="0.45"/>
<path d="M225.74,80.94A100.4,100.4 0 0 1 227.28,83.18L215.16,91.31A85.8,85.8 0 0 0 213.84,89.40Z" fill="#fd7252" stroke="#fd7252" stroke-width="0.45"/>
<path d="M227.04,82.81A100.4,100.4 0 0 1 228.53,85.08L216.22,92.94A85.8,85.8 0 0 0 214.95,91.00Z" fill="#fd7454" stroke="#fd7454" stroke-width="0.45"/>
<path d="M228.29,84.71A100.4,100.4 0 0 1 229.73,87.02L217.25,94.59A85.8,85.8 0 0 0 216.02,92.62Z" fill="#fd7454" stroke="#fd7454" stroke-width="0.45"/>
<path d="M229.51,86.64A100.4,100.4 0 0 1 230.89,88.98L218.24,96.26A85.8,85.8 0 0 0 217.06,94.27Z" fill="#fd7656" stroke="#fd7656" stroke-width="0.45"/>
<path d="M230.67,88.60A100.4,100.4 0 0 1 232.01,90.96L219.20,97.96A85.8,85.8 0 0 0 218.05,95.94Z" fill="#fd8868" stroke="#fd8868" stroke-width="0.45"/>
<path d="M231.80,90.58A100.4,100.4 0 0 1 233.08,92.97L220.11,99.68A85.8,85.8 0 0 0 219.01,97.63Z" fill="#fd7f5f" stroke="#fd7f5f" stroke-width="0.45"/>
<path d="M232.87,92.59A100.4,100.4 0 0 1 234.10,95.01L220.98,101.42A85.8,85.8 0 0 0 219.94,99.35Z" fill="#fd8565" stroke="#fd8565" stroke-width="0.45"/>
<path d="M233.91,94.62A100.4,100.4 0 0 1 235.08,97.07L221.82,103.18A85.8,85.8 0 0 0 220.82,101.08Z" fill="#fd9172" stroke="#fd9172" stroke-width="0.45"/>
<path d="M234.89,96.67A100.4,100.4 0 0 1 236.01,99.15L222.61,104.96A85.8,85.8 0 0 0 221.66,102.84Z" fill="#fd9273" stroke="#fd9273" stroke-width="0.45"/>
<path d="M235.83,98.74A100.4,100.4 0 0 1 236.89,101.25L223.37,106.75A85.8,85.8 0 0 0 222.46,104.61Z" fill="#fd8b6b" stroke="#fd8b6b" stroke-width="0.45"/>
<path d="M236.72,100.84A100.4,100.4 0 0 1 237.73,103.37L224.08,108.56A85.8,85.8 0 0 0 223.23,106.40Z" fill="#fd8b6b" stroke="#fd8b6b" stroke-width="0.45"/>
<path d="M237.57,102.96A100.4,100.4 0 0 1 238.51,105.50L224.75,110.39A85.8,85.8 0 0 0 223.95,108.21Z" fill="#fd7959" stroke="#fd7959" stroke-width="0.45"/>
<path d="M238.36,105.09A100.4,100.4 0 0 1 239.25,107.66L225.38,112.23A85.8,85.8 0 0 0 224.63,110.04Z" fill="#fd6d4d" stroke="#fd6d4d" stroke-width="0.45"/>
<path d="M239.11,107.24A100.4,100.4 0 0 1 239.94,109.83L225.97,114.09A85.8,85.8 0 0 0 225.27,111.88Z" fill="#fd7a5a" stroke="#fd7a5a" stroke-width="0.45"/>
<path d="M239.81,109.41A100.4,100.4 0 0 1 240.58,112.02L226.52,115.95A85.8,85.8 0 0 0 225.86,113.73Z" fill="#fd6545" stroke="#fd6545" stroke-width="0.45"/>
<path d="M240.46,111.59A100.4,100.4 0 0 1 240.88,113.11L226.78,116.89A85.8,85.8 0 0 0 226.42,115.59Z" fill="#fe6040" stroke="#fe6040" stroke-width="0.45"/>
<path d="M122.00,251.79A114.8,114.8 0 0 1 118.95,251.16L122.08,237.10A100.4,100.4 0 0 0 124.74,237.66Z" fill="#0e0aff" stroke="#0e0aff" stroke-width="0.45"/>
<path d="M119.44,251.26A114.8,114.8 0 0 1 116.42,250.56L119.87,236.58A100.4,100.4 0 0 0 122.51,237.20Z" fill="#0000ff" stroke="#0000ff" stroke-width="0.45"/>
<path d="M116.91,250.68A114.8,114.8 0 0 1 113.90,249.91L117.66,236.01A100.4,100.4 0 0 0 120.29,236.68Z" fill="#0000ff" stroke="#0000ff" stroke-width="0.45"/>
<path d="M114.38,250.04A114.8,114.8 0 0 1 111.39,249.20L115.47,235.39A100.4,100.4 0 0 0 118.08,236.12Z" fill="#0000ff" stroke="#0000ff" stroke-width="0.45"/>
<path d="M111.87,249.34A114.8,114.8 0 0 1 108.90,248.44L113.29,234.72A100.4,100.4 0 0 0 115.89,235.51Z" fill="#0000ff" stroke="#0000ff" stroke-width="0.45"/>
<path d="M109.38,248.59A114.8,114.8 0 0 1 106.43,247.61L111.13,234.00A100.4,100.4 0 0 0 113.71,234.85Z" fill="#0000ff" stroke="#0000ff" stroke-width="0.45"/>
<path d="M106.90,247.78A114.8,114.8 0 0 1 103.98,246.73L108.99,233.23A100.4,100.4 0 0 0 111.54,234.14Z" fill="#0806ff" stroke="#0806ff" stroke-width="0.45"/>
<path d="M104.45,246.91A114.8,114.8 0 0 1 101.55,245.80L106.86,232.42A100.4,100.4 0 0 0 109.40,233.39Z" fill="#110cff" stroke="#110cff" stroke-width="0.45"/>
<path d="M102.01,245.99A114.8,114.8 0 0 1 99.14,244.81L104.75,231.55A100.4,100.4 0 0 0 107.27,232.58Z" fill="#100bff" stroke="#100bff" stroke-width="0.45"/>
<path d="M99.60,245.01A114.8,114.8 0 0 1 96.75,243.77L102.66,230.64A100.4,100.4 0 0 0 105.16,231.72Z" fill="#0604ff" stroke="#0604ff" stroke-width="0.45"/>
<path d="M97.21,243.98A114.8,114.8 0 0 1 94.39,242.67L100.60,229.68A100.4,100.4 0 0 0 103.06,230.82Z" fill="#0d09ff" stroke="#0d09ff" stroke-width="0.45"/>
<path d="M94.84,242.89A114.8,114.8 0 0 1 92.05,241.52L98.55,228.68A100.4,100.4 0 0 0 100.99,229.87Z" fill="#130eff" stroke="#130eff" stroke-width="0.45"/>
<path d="M92.50,241.75A114.8,114.8 0 0 1 89.74,240.32L96.53,227.62A100.4,100.4 0 0 0 98.94,228.87Z" fill="#0000ff" stroke="#0000ff" stroke-width="0.45"/>
<path d="M90.18,240.56A114.8,114.8 0 0 1 87.46,239.07L94.54,226.53A100.4,100.4 0 0 0 96.92,227.83Z" fill="#120dff" stroke="#120dff" stroke-width="0.45"/>
<path d="M87.89,239.31A114.8,114.8 0 0 1 85.20,237.76L92.57,225.38A100.4,100.4 0 0 0 94.92,226.74Z" fill="#1c14ff" stroke="#1c14ff" stroke-width="0.45"/>
<path d="M85.63,238.02A114.8,114.8 0 0 1 82.98,236.40L90.62,224.20A100.4,100.4 0 0 0 92.94,225.61Z" fill="#1912ff" stroke="#1912ff" stroke-width="0.45"/>
<path d="M83.41,236.67A114.8,114.8 0 0 1 80.79,235.00L88.70,222.97A100.4,100.4 0 0 0 90.99,224.43Z" fill="#1912ff" stroke="#1912ff" stroke-width="0.45"/>
<path d="M81.21,235.27A114.8,114.8 0 0 1 78.63,233.54L86.82,221.69A100.4,100.4 0 0 0 89.07,223.21Z" fill="#120dff" stroke="#120dff" stroke-width="0.45"/>
<path d="M79.04,233.82A114.8,114.8 0 0 1 76.50,232.03L84.96,220.38A100.4,100.4 0 0 0 87.18,221.94Z" fill="#0a07ff" stroke="#0a07ff" stroke-width="0.45"/>
<path d="M76.91,232.33A114.8,114.8 0 0 1 74.41,230.48L83.13,219.02A100.4,100.4 0 0 0 85.31,220.63Z" fill="#3324ff" stroke="#3324ff" stroke-width="0.45"/>
<path d="M74.81,230.78A114.8,114.8 0 0 1 72.36,228.88L81.33,217.62A100.4,100.4 0 0 0 83.48,219.28Z" fill="#6f5fff" stroke="#6f5fff" stroke-width="0.45"/>
<path d="M72.75,229.19A114.8,114.8 0 0 1 70.34,227.23L79.57,216.18A100.4,100.4 0 0 0 81.67,217.89Z" fill="#a798ff" stroke="#a798ff" stroke-width="0.45"/>
<path d="M70.72,227.55A114.8,114.8 0 0 1 68.36,225.54L77.83,214.70A100.4,100.4 0 0 0 79.90,216.46Z" fill="#b5a9ff" stroke="#b5a9ff" stroke-width="0.45"/>
<path d="M68.74,225.87A114.8,114.8 0 0 1 66.42,223.81L76.14,213.18A100.4,100.4 0 0 0 78.16,214.99Z" fill="#8878ff" stroke="#8878ff" stroke-width="0.45"/>
<path d="M66.79,224.14A114.8,114.8 0 0 1 64.51,222.03L74.47,211.63A100.4,100.4 0 0 0 76.46,213.48Z" fill="#8979ff" stroke="#8979ff" stroke-width="0.45"/>
<path d="M64.88,222.37A114.8,114.8 0 0 1 62.65,220.20L72.84,210.03A100.4,100.4 0 0 0 74.79,211.93Z" fill="#5545ff" stroke="#5545ff" stroke-width="0.45"/>
<path d="M63.01,220.56A114.8,114.8 0 0 1 60.83,218.34L71.25,208.40A100.4,100.4 0 0 0 73.15,210.34Z" fill="#1c14ff" stroke="#1c14ff" stroke-width="0.45"/>
<path d="M61.18,218.70A114.8,114.8 0 0 1 59.06,216.44L69.70,206.74A100.4,100.4 0 0 0 71.56,208.72Z" fill="#0d09ff" stroke="#0d09ff" stroke-width="0.45"/>
<path d="M59.40,216.81A114.8,114.8 0 0 1 57.33,214.49L68.18,205.03A100.4,100.4 0 0 0 70.00,207.06Z" fill="#0e0aff" stroke="#0e0aff" stroke-width="0.45"/>
<path d="M57.65,214.87A114.8,114.8 0 0 1 55.64,212.51L66.71,203.30A100.4,100.4 0 0 0 68.47,205.36Z" fill="#110cff" stroke="#110cff" stroke-width="0.45"/>
<path d="M55.96,212.89A114.8,114.8 0 0 1 53.99,210.49L65.27,201.53A100.4,100.4 0 0 0 66.99,203.64Z" fill="#2a1eff" stroke="#2a1eff" stroke-width="0.45"/>
<path d="M54.31,210.88A114.8,114.8 0 0 1 52.40,208.43L63.88,199.73A100.4,100.4 0 0 0 65.54,201.87Z" fill="#4d3dff" stroke="#4d3dff" stroke-width="0.45"/>
<path d="M52.70,208.83A114.8,114.8 0 0 1 50.85,206.33L62.52,197.90A100.4,100.4 0 0 0 64.14,200.08Z" fill="#6252ff" stroke="#6252ff" stroke-width="0.45"/>
<path d="M51.14,206.74A114.8,114.8 0 0 1 49.35,204.21L61.21,196.04A100.4,100.4 0 0 0 62.78,198.26Z" fill="#c3b9ff" stroke="#c3b9ff" stroke-width="0.45"/>
<path d="M49.63,204.62A114.8,114.8 0 0 1 47.89,202.04L59.94,194.15A100.4,100.4 0 0 0 61.46,196.40Z" fill="#e8e0ff" stroke="#e8e0ff" stroke-width="0.45"/>
<path d="M48.17,202.46A114.8,114.8 0 0 1 46.49,199.85L58.71,192.23A100.4,100.4 0 0 0 60.18,194.51Z" fill="#eee9ff" stroke="#eee9ff" stroke-width="0.45"/>
<path d="M46.76,200.27A114.8,114.8 0 0 1 45.14,197.62L57.53,190.28A100.4,100.4 0 0 0 58.94,192.60Z" fill="#f3efff" stroke="#f3efff" stroke-width="0.45"/>
<path d="M45.39,198.05A114.8,114.8 0 0 1 43.84,195.37L56.39,188.31A100.4,100.4 0 0 0 57.75,190.66Z" fill="#feeae4" stroke="#feeae4" stroke-width="0.45"/>
<path d="M44.08,195.80A114.8,114.8 0 0 1 42.58,193.08L55.29,186.31A100.4,100.4 0 0 0 56.60,188.69Z" fill="#f7f5ff" stroke="#f7f5ff" stroke-width="0.45"/>
<path d="M42.82,193.53A114.8,114.8 0 0 1 41.39,190.77L54.24,184.29A100.4,100.4 0 0 0 55.50,186.70Z" fill="#e8e0ff" stroke="#e8e0ff" stroke-width="0.45"/>
<path d="M41.61,191.22A114.8,114.8 0 0 1 40.24,188.43L53.24,182.24A100.4,100.4 0 0 0 54.44,184.68Z" fill="#fde2db" stroke="#fde2db" stroke-width="0.45"/>
<path d="M40.46,188.88A114.8,114.8 0 0 1 39.15,186.07L52.29,180.18A100.4,100.4 0 0 0 53.43,182.64Z" fill="#fffefe" stroke="#fffefe" stroke-width="0.45"/>
<path d="M39.35,186.52A114.8,114.8 0 0 1 38.11,183.68L51.38,178.09A100.4,100.4 0 0 0 52.47,180.58Z" fill="#f4f0ff" stroke="#f4f0ff" stroke-width="0.45"/>
<path d="M38.30,184.14A114.8,114.8 0 0 1 37.12,181.27L50.52,175.98A100.4,100.4 0 0 0 51.55,178.49Z" fill="#fef4f1" stroke="#fef4f1" stroke-width="0.45"/>
<path d="M37.31,181.73A114.8,114.8 0 0 1 36.20,178.83L49.71,173.85A100.4,100.4 0 0 0 50.68,176.39Z" fill="#e7dfff" stroke="#e7dfff" stroke-width="0.45"/>
<path d="M36.37,179.30A114.8,114.8 0 0 1 35.32,176.38L48.94,171.70A100.4,100.4 0 0 0 49.86,174.26Z" fill="#fffdfd" stroke="#fffdfd" stroke-width="0.45"/>
<path d="M35.49,176.85A114.8,114.8 0 0 1 34.50,173.91L48.23,169.54A100.4,100.4 0 0 0 49.08,172.12Z" fill="#fff8f6" stroke="#fff8f6" stroke-width="0.45"/>
<path d="M34.66,174.38A114.8,114.8 0 0 1 33.74,171.42L47.56,167.36A100.4,100.4 0 0 0 48.36,169.96Z" fill="#e7dfff" stroke="#e7dfff" stroke-width="0.45"/>
<path d="M33.88,171.90A114.8,114.8 0 0 1 33.04,168.91L46.94,165.17A100.4,100.4 0 0 0 47.68,167.78Z" fill="#f2eeff" stroke="#f2eeff" stroke-width="0.45"/>
<path d="M33.17,169.39A114.8,114.8 0 0 1 32.39,166.39L46.38,162.96A100.4,100.4 0 0 0 47.06,165.59Z" fill="#faf9ff" stroke="#faf9ff" stroke-width="0.45"/>
<path d="M32.51,166.87A114.8,114.8 0 0 1 31.80,163.85L45.86,160.74A100.4,100.4 0 0 0 46.48,163.39Z" fill="#f4f1ff" stroke="#f4f1ff" stroke-width="0.45"/>
<path d="M31.91,164.34A114.8,114.8 0 0 1 31.27,161.30L45.40,158.52A100.4,100.4 0 0 0 45.96,161.17Z" fill="#fef6f4" stroke="#fef6f4" stroke-width="0.45"/>
<path d="M31.36,161.79A114.8,114.8 0 0 1 30.79,158.74L44.98,156.28A100.4,100.4 0 0 0 45.48,158.94Z" fill="#f1ecff" stroke="#f1ecff" stroke-width="0.45"/>
<path d="M30.88,159.23A114.8,114.8 0 0 1 30.38,156.17L44.62,154.03A100.4,100.4 0 0 0 45.06,156.71Z" fill="#fdfdff" stroke="#fdfdff" stroke-width="0.45"/>
<path d="M30.45,156.66A114.8,114.8 0 0 1 30.02,153.59L44.30,151.77A100.4,100.4 0 0 0 44.68,154.46Z" fill="#f3efff" stroke="#f3efff" stroke-width="0.45"/>
<path d="M30.08,154.08A114.8,114.8 0 0 1 29.72,151.00L44.04,149.51A100.4,100.4 0 0 0 44.36,152.20Z" fill="#fddad0" stroke="#fddad0" stroke-width="0.45"/>
<path d="M29.77,151.50A114.8,114.8 0 0 1 29.48,148.41L43.83,147.24A100.4,100.4 0 0 0 44.09,149.94Z" fill="#feece8" stroke="#feece8" stroke-width="0.45"/>
<path d="M29.52,148.91A114.8,114.8 0 0 1 29.30,145.81L43.67,144.97A100.4,100.4 0 0 0 43.87,147.68Z" fill="#fde5df" stroke="#fde5df" stroke-width="0.45"/>
<path d="M29.33,146.31A114.8,114.8 0 0 1 29.17,143.21L43.56,142.69A100.4,100.4 0 0 0 43.70,145.40Z" fill="#fde2db" stroke="#fde2db" stroke-width="0.45"/>
<path d="M29.19,143.71A114.8,114.8 0 0 1 29.11,140.60L43.51,140.41A100.4,100.4 0 0 0 43.58,143.13Z" fill="#fddad1" stroke="#fddad1" stroke-width="0.45"/>
<path d="M29.12,141.10A114.8,114.8 0 0 1 29.11,138.00L43.50,138.14A100.4,100.4 0 0 0 43.52,140.85Z" fill="#fef5f3" stroke="#fef5f3" stroke-width="0.45"/>
<path d="M29.10,138.50A114.8,114.8 0 0 1 29.16,135.39L43.55,135.86A100.4,100.4 0 0 0 43.50,138.57Z" fill="#fddcd2" stroke="#fddcd2" stroke-width="0.45"/>
<path d="M29.14,135.89A114.8,114.8 0 0 1 29.27,132.79L43.65,133.58A100.4,100.4 0 0 0 43.54,136.30Z" fill="#feece7" stroke="#feece7" stroke-width="0.45"/>
<path d="M29.25,133.29A114.8,114.8 0 0 1 29.45,130.19L43.80,131.31A100.4,100.4 0 0 0 43.63,134.02Z" fill="#fde6e0" stroke="#fde6e0" stroke-width="0.45"/>
<path d="M29.41,130.69A114.8,114.8 0 0 1 29.68,127.60L44.01,129.04A100.4,100.4 0 0 0 43.77,131.75Z" fill="#fde3dc" stroke="#fde3dc" stroke-width="0.45"/>
<path d="M29.63,128.10A114.8,114.8 0 0 1 29.97,125.01L44.26,126.78A100.4,100.4 0 0 0 43.96,129.48Z" fill="#fef6f4" stroke="#fef6f4" stroke-width="0.45"/>
<path d="M29.91,125.51A114.8,114.8 0 0 1 30.32,122.43L44.56,124.52A100.4,100.4 0 0 0 44.21,127.21Z" fill="#fdd9ce" stroke="#fdd9ce" stroke-width="0.45"/>
<path d="M30.25,122.92A114.8,114.8 0 0 1 30.72,119.86L44.92,122.27A100.4,100.4 0 0 0 44.50,124.95Z" fill="#fdd9cf" stroke="#fdd9cf" stroke-width="0.45"/>
<path d="M30.64,120.35A114.8,114.8 0 0 1 31.19,117.29L45.33,120.03A100.4,100.4 0 0 0 44.85,122.70Z" fill="#fdd9ce" stroke="#fdd9ce" stroke-width="0.45"/>
<path d="M31.10,117.79A114.8,114.8 0 0 1 31.71,114.74L45.79,117.80A100.4,100.4 0 0 0 45.25,120.46Z" fill="#fcc5b4" stroke="#fcc5b4" stroke-width="0.45"/>
<path d="M31.61,115.23A114.8,114.8 0 0 1 32.30,112.20L46.29,115.58A100.4,100.4 0 0 0 45.69,118.23Z" fill="#fdd7cc" stroke="#fdd7cc" stroke-width="0.45"/>
<path d="M32.18,112.69A114.8,114.8 0 0 1 32.93,109.68L46.85,113.37A100.4,100.4 0 0 0 46.19,116.00Z" fill="#fcd1c4" stroke="#fcd1c4" stroke-width="0.45"/>
<path d="M32.81,110.16A114.8,114.8 0 0 1 33.63,107.17L47.46,111.17A100.4,100.4 0 0 0 46.74,113.79Z" fill="#fdd8cd" stroke="#fdd8cd" stroke-width="0.45"/>
<path d="M33.49,107.65A114.8,114.8 0 0 1 34.38,104.67L48.12,108.99A100.4,100.4 0 0 0 47.34,111.59Z" fill="#7f6fff" stroke="#7f6fff" stroke-width="0.45"/>
<path d="M34.23,105.15A114.8,114.8 0 0 1 35.19,102.20L48.83,106.83A100.4,100.4 0 0 0 47.99,109.41Z" fill="#3526ff" stroke="#3526ff" stroke-width="0.45"/>
<path d="M35.03,102.67A114.8,114.8 0 0 1 36.06,99.74L49.58,104.68A100.4,100.4 0 0 0 48.69,107.24Z" fill="#3526ff" stroke="#3526ff" stroke-width="0.45"/>
<path d="M35.89,100.21A114.8,114.8 0 0 1 36.98,97.31L50.39,102.55A100.4,100.4 0 0 0 49.44,105.09Z" fill="#3223ff" stroke="#3223ff" stroke-width="0.45"/>
<path d="M36.80,97.77A114.8,114.8 0 0 1 37.95,94.89L51.24,100.44A100.4,100.4 0 0 0 50.23,102.96Z" fill="#3425ff" stroke="#3425ff" stroke-width="0.45"/>
<path d="M37.76,95.35A114.8,114.8 0 0 1 38.98,92.50L52.14,98.34A100.4,100.4 0 0 0 51.08,100.84Z" fill="#1a13ff" stroke="#1a13ff" stroke-width="0.45"/>
<path d="M38.78,92.96A114.8,114.8 0 0 1 40.07,90.13L53.09,96.27A100.4,100.4 0 0 0 51.97,98.74Z" fill="#2319ff" stroke="#2319ff" stroke-width="0.45"/>
<path d="M39.86,90.58A114.8,114.8 0 0 1 41.21,87.79L54.09,94.22A100.4,100.4 0 0 0 52.91,96.67Z" fill="#1a12ff" stroke="#1a12ff" stroke-width="0.45"/>
<path d="M40.98,88.24A114.8,114.8 0 0 1 42.40,85.47L55.13,92.20A100.4,100.4 0 0 0 53.89,94.62Z" fill="#2017ff" stroke="#2017ff" stroke-width="0.45"/>
<path d="M42.16,85.91A114.8,114.8 0 0 1 43.64,83.18L56.22,90.20A100.4,100.4 0 0 0 54.93,92.59Z" fill="#3425ff" stroke="#3425ff" stroke-width="0.45"/>
<path d="M43.40,83.62A114.8,114.8 0 0 1 44.93,80.92L57.35,88.22A100.4,100.4 0 0 0 56.00,90.58Z" fill="#3123ff" stroke="#3123ff" stroke-width="0.45"/>
<path d="M44.68,81.35A114.8,114.8 0 0 1 46.28,78.69L58.52,86.27A100.4,100.4 0 0 0 57.13,88.60Z" fill="#3324ff" stroke="#3324ff" stroke-width="0.45"/>
<path d="M46.02,79.12A114.8,114.8 0 0 1 47.68,76.49L59.75,84.34A100.4,100.4 0 0 0 58.29,86.64Z" fill="#3627ff" stroke="#3627ff" stroke-width="0.45"/>
<path d="M47.40,76.91A114.8,114.8 0 0 1 49.12,74.32L61.01,82.45A100.4,100.4 0 0 0 59.51,84.71Z" fill="#3828ff" stroke="#3828ff" stroke-width="0.45"/>
<path d="M48.84,74.74A114.8,114.8 0 0 1 50.61,72.19L62.32,80.58A100.4,100.4 0 0 0 60.76,82.81Z" fill="#281cff" stroke="#281cff" stroke-width="0.45"/>
<path d="M50.32,72.60A114.8,114.8 0 0 1 52.16,70.09L63.66,78.75A100.4,100.4 0 0 0 62.06,80.94Z" fill="#4131ff" stroke="#4131ff" stroke-width="0.45"/>
<path d="M51.86,70.49A114.8,114.8 0 0 1 53.75,68.03L65.05,76.94A100.4,100.4 0 0 0 63.40,79.10Z" fill="#5949ff" stroke="#5949ff" stroke-width="0.45"/>
<path d="M53.44,68.42A114.8,114.8 0 0 1 55.38,66.00L66.48,75.17A100.4,100.4 0 0 0 64.78,77.29Z" fill="#6f5fff" stroke="#6f5fff" stroke-width="0.45"/>
<path d="M55.06,66.39A114.8,114.8 0 0 1 57.06,64.01L67.95,73.43A100.4,100.4 0 0 0 66.21,75.51Z" fill="#8979ff" stroke="#8979ff" stroke-width="0.45"/>
<path d="M56.74,64.39A114.8,114.8 0 0 1 58.79,62.06L69.46,71.72A100.4,100.4 0 0 0 67.67,73.76Z" fill="#8474ff" stroke="#8474ff" stroke-width="0.45"/>
<path d="M58.45,62.43A114.8,114.8 0 0 1 60.56,60.15L71.01,70.05A100.4,100.4 0 0 0 69.17,72.05Z" fill="#9484ff" stroke="#9484ff" stroke-width="0.45"/>
<path d="M60.21,60.51A114.8,114.8 0 0 1 62.37,58.28L72.60,68.42A100.4,100.4 0 0 0 70.71,70.37Z" fill="#9383ff" stroke="#9383ff" stroke-width="0.45"/>
<path d="M62.02,58.64A114.8,114.8 0 0 1 64.23,56.45L74.22,66.82A100.4,100.4 0 0 0 72.29,68.73Z" fill="#bbb1ff" stroke="#bbb1ff" stroke-width="0.45"/>
<path d="M63.87,56.80A114.8,114.8 0 0 1 66.12,54.66L75.88,65.26A100.4,100.4 0 0 0 73.90,67.12Z" fill="#ac9eff" stroke="#ac9eff" stroke-width="0.45"/>
<path d="M65.75,55.00A114.8,114.8 0 0 1 68.06,52.92L77.57,63.73A100.4,100.4 0 0 0 75.56,65.55Z" fill="#bdb3ff" stroke="#bdb3ff" stroke-width="0.45"/>
<path d="M67.68,53.25A114.8,114.8 0 0 1 70.03,51.22L79.30,62.25A100.4,100.4 0 0 0 77.24,64.02Z" fill="#c6beff" stroke="#c6beff" stroke-width="0.45"/>
<path d="M69.65,51.55A114.8,114.8 0 0 1 72.04,49.57L81.06,60.80A100.4,100.4 0 0 0 78.96,62.53Z" fill="#9282ff" stroke="#9282ff" stroke-width="0.45"/>
<path d="M71.65,49.88A114.8,114.8 0 0 1 74.09,47.96L82.85,59.39A100.4,100.4 0 0 0 80.72,61.07Z" fill="#a293ff" stroke="#a293ff" stroke-width="0.45"/>
<path d="M73.70,48.27A114.8,114.8 0 0 1 76.18,46.40L84.67,58.03A100.4,100.4 0 0 0 82.50,59.66Z" fill="#bab0ff" stroke="#bab0ff" stroke-width="0.45"/>
<path d="M75.78,46.70A114.8,114.8 0 0 1 78.30,44.89L86.53,56.71A100.4,100.4 0 0 0 84.32,58.29Z" fill="#ac9eff" stroke="#ac9eff" stroke-width="0.45"/>
<path d="M77.89,45.18A114.8,114.8 0 0 1 80.45,43.43L88.41,55.43A100.4,100.4 0 0 0 86.17,56.96Z" fill="#7262ff" stroke="#7262ff" stroke-width="0.45"/>
<path d="M80.04,43.70A114.8,114.8 0 0 1 82.64,42.01L90.33,54.19A100.4,100.4 0 0 0 88.05,55.67Z" fill="#6b5bff" stroke="#6b5bff" stroke-width="0.45"/>
<path d="M82.22,42.28A114.8,114.8 0 0 1 84.86,40.65L92.27,53.00A100.4,100.4 0 0 0 89.96,54.42Z" fill="#7969ff" stroke="#7969ff" stroke-width="0.45"/>
<path d="M84.43,40.90A114.8,114.8 0 0 1 87.11,39.33L94.23,51.85A100.4,100.4 0 0 0 91.89,53.22Z" fill="#4e3eff" stroke="#4e3eff" stroke-width="0.45"/>
<path d="M86.67,39.58A114.8,114.8 0 0 1 89.39,38.07L96.22,50.74A100.4,100.4 0 0 0 93.85,52.06Z" fill="#3526ff" stroke="#3526ff" stroke-width="0.45"/>
<path d="M88.95,38.31A114.8,114.8 0 0 1 91.69,36.86L98.24,49.68A100.4,100.4 0 0 0 95.84,50.95Z" fill="#110cff" stroke="#110cff" stroke-width="0.45"/>
<path d="M91.25,37.09A114.8,114.8 0 0 1 94.03,35.70L100.28,48.67A100.4,100.4 0 0 0 97.85,49.88Z" fill="#2218ff" stroke="#2218ff" stroke-width="0.45"/>
<path d="M93.57,35.92A114.8,114.8 0 0 1 96.38,34.59L102.34,47.70A100.4,100.4 0 0 0 99.89,48.86Z" fill="#241aff" stroke="#241aff" stroke-width="0.45"/>
<path d="M95.93,34.80A114.8,114.8 0 0 1 98.77,33.54L104.43,46.78A100.4,100.4 0 0 0 101.95,47.89Z" fill="#261bff" stroke="#261bff" stroke-width="0.45"/>
<path d="M98.31,33.74A114.8,114.8 0 0 1 101.17,32.55L106.53,45.91A100.4,100.4 0 0 0 104.03,46.96Z" fill="#0d0aff" stroke="#0d0aff" stroke-width="0.45"/>
<path d="M100.71,32.73A114.8,114.8 0 0 1 103.60,31.61L108.66,45.09A100.4,100.4 0 0 0 106.13,46.08Z" fill="#1d15ff" stroke="#1d15ff" stroke-width="0.45"/>
<path d="M103.13,31.78A114.8,114.8 0 0 1 106.05,30.72L110.80,44.31A100.4,100.4 0 0 0 108.25,45.24Z" fill="#1912ff" stroke="#1912ff" stroke-width="0.45"/>
<path d="M105.58,30.88A114.8,114.8 0 0 1 108.52,29.89L112.96,43.59A100.4,100.4 0 0 0 110.39,44.46Z" fill="#0b08ff" stroke="#0b08ff" stroke-width="0.45"/>
<path d="M108.04,30.04A114.8,114.8 0 0 1 111.01,29.11L115.13,42.91A100.4,100.4 0 0 0 112.54,43.72Z" fill="#2319ff" stroke="#2319ff" stroke-width="0.45"/>
<path d="M110.53,29.26A114.8,114.8 0 0 1 113.51,28.40L117.32,42.28A100.4,100.4 0 0 0 114.71,43.04Z" fill="#261bff" stroke="#261bff" stroke-width="0.45"/>
<path d="M113.03,28.53A114.8,114.8 0 0 1 116.03,27.73L119.53,41.70A100.4,100.4 0 0 0 116.90,42.40Z" fill="#110cff" stroke="#110cff" stroke-width="0.45"/>
<path d="M115.54,27.86A114.8,114.8 0 0 1 118.56,27.13L121.74,41.18A100.4,100.4 0 0 0 119.10,41.81Z" fill="#291dff" stroke="#291dff" stroke-width="0.45"/>
<path d="M118.08,27.24A114.8,114.8 0 0 1 121.11,26.58L123.97,40.70A100.4,100.4 0 0 0 121.31,41.27Z" fill="#1912ff" stroke="#1912ff" stroke-width="0.45"/>
<path d="M120.62,26.69A114.8,114.8 0 0 1 123.67,26.10L126.21,40.27A100.4,100.4 0 0 0 123.54,40.79Z" fill="#1d15ff" stroke="#1d15ff" stroke-width="0.45"/>
<path d="M123.18,26.19A114.8,114.8 0 0 1 126.24,25.67L128.45,39.90A100.4,100.4 0 0 0 125.78,40.35Z" fill="#2e21ff" stroke="#2e21ff" stroke-width="0.45"/>
<path d="M125.74,25.74A114.8,114.8 0 0 1 128.82,25.30L130.71,39.57A100.4,100.4 0 0 0 128.02,39.96Z" fill="#2b1fff" stroke="#2b1fff" stroke-width="0.45"/>
<path d="M128.32,25.36A114.8,114.8 0 0 1 131.40,24.98L132.97,39.30A100.4,100.4 0 0 0 130.27,39.63Z" fill="#1912ff" stroke="#1912ff" stroke-width="0.45"/>
<path d="M130.90,25.04A114.8,114.8 0 0 1 133.99,24.73L135.24,39.07A100.4,100.4 0 0 0 132.53,39.35Z" fill="#2319ff" stroke="#2319ff" stroke-width="0.45"/>
<path d="M133.50,24.77A114.8,114.8 0 0 1 136.59,24.53L137.51,38.90A100.4,100.4 0 0 0 134.80,39.11Z" fill="#281dff" stroke="#281dff" stroke-width="0.45"/>
<path d="M136.09,24.57A114.8,114.8 0 0 1 139.19,24.40L139.78,38.78A100.4,100.4 0 0 0 137.07,38.93Z" fill="#5747ff" stroke="#5747ff" stroke-width="0.45"/>
<path d="M138.69,24.42A114.8,114.8 0 0 1 141.80,24.32L142.06,38.72A100.4,100.4 0 0 0 139.35,38.80Z" fill="#9f8fff" stroke="#9f8fff" stroke-width="0.45"/>
<path d="M141.30,24.33A114.8,114.8 0 0 1 144.40,24.30L144.34,38.70A100.4,100.4 0 0 0 141.62,38.73Z" fill="#a89aff" stroke="#a89aff" stroke-width="0.45"/>
<path d="M143.90,24.30A114.8,114.8 0 0 1 147.01,24.34L146.62,38.74A100.4,100.4 0 0 0 143.90,38.70Z" fill="#c9c1ff" stroke="#c9c1ff" stroke-width="0.45"/>
<path d="M146.50,24.33A114.8,114.8 0 0 1 149.61,24.44L148.89,38.82A100.4,100.4 0 0 0 146.18,38.73Z" fill="#9181ff" stroke="#9181ff" stroke-width="0.45"/>
<path d="M149.11,24.42A114.8,114.8 0 0 1 152.21,24.60L151.17,38.96A100.4,100.4 0 0 0 148.45,38.80Z" fill="#bbb1ff" stroke="#bbb1ff" stroke-width="0.45"/>
<path d="M151.71,24.57A114.8,114.8 0 0 1 154.80,24.82L153.44,39.15A100.4,100.4 0 0 0 150.73,38.93Z" fill="#b2a6ff" stroke="#b2a6ff" stroke-width="0.45"/>
<path d="M154.30,24.77A114.8,114.8 0 0 1 157.39,25.10L155.70,39.40A100.4,100.4 0 0 0 153.00,39.11Z" fill="#9181ff" stroke="#9181ff" stroke-width="0.45"/>
<path d="M156.90,25.04A114.8,114.8 0 0 1 159.98,25.43L157.96,39.69A100.4,100.4 0 0 0 155.27,39.35Z" fill="#9e8eff" stroke="#9e8eff" stroke-width="0.45"/>
<path d="M159.48,25.36A114.8,114.8 0 0 1 162.55,25.83L160.21,40.03A100.4,100.4 0 0 0 157.53,39.63Z" fill="#5141ff" stroke="#5141ff" stroke-width="0.45"/>
<path d="M162.06,25.74A114.8,114.8 0 0 1 165.12,26.28L162.45,40.43A100.4,100.4 0 0 0 159.78,39.96Z" fill="#2a1eff" stroke="#2a1eff" stroke-width="0.45"/>
<path d="M164.62,26.19A114.8,114.8 0 0 1 167.67,26.79L164.69,40.88A100.4,100.4 0 0 0 162.02,40.35Z" fill="#1f16ff" stroke="#1f16ff" stroke-width="0.45"/>
<path d="M167.18,26.69A114.8,114.8 0 0 1 170.21,27.36L166.91,41.37A100.4,100.4 0 0 0 164.26,40.79Z" fill="#3d2dff" stroke="#3d2dff" stroke-width="0.45"/>
<path d="M169.72,27.24A114.8,114.8 0 0 1 172.74,27.98L169.12,41.92A100.4,100.4 0 0 0 166.49,41.27Z" fill="#3929ff" stroke="#3929ff" stroke-width="0.45"/>
<path d="M172.26,27.86A114.8,114.8 0 0 1 175.25,28.66L171.32,42.52A100.4,100.4 0 0 0 168.70,41.81Z" fill="#4131ff" stroke="#4131ff" stroke-width="0.45"/>
<path d="M174.77,28.53A114.8,114.8 0 0 1 177.75,29.40L173.51,43.16A100.4,100.4 0 0 0 170.90,42.40Z" fill="#2c1fff" stroke="#2c1fff" stroke-width="0.45"/>
<path d="M177.27,29.26A114.8,114.8 0 0 1 180.23,30.20L175.67,43.86A100.4,100.4 0 0 0 173.09,43.04Z" fill="#3627ff" stroke="#3627ff" stroke-width="0.45"/>
<path d="M179.76,30.04A114.8,114.8 0 0 1 182.69,31.05L177.83,44.61A100.4,100.4 0 0 0 175.26,43.72Z" fill="#3526ff" stroke="#3526ff" stroke-width="0.45"/>
<path d="M182.22,30.88A114.8,114.8 0 0 1 185.13,31.96L179.96,45.40A100.4,100.4 0 0 0 177.41,44.46Z" fill="#5242ff" stroke="#5242ff" stroke-width="0.45"/>
<path d="M184.67,31.78A114.8,114.8 0 0 1 187.55,32.92L182.08,46.24A100.4,100.4 0 0 0 179.55,45.24Z" fill="#5f4fff" stroke="#5f4fff" stroke-width="0.45"/>
<path d="M187.09,32.73A114.8,114.8 0 0 1 189.95,33.94L184.18,47.13A100.4,100.4 0 0 0 181.67,46.08Z" fill="#6757ff" stroke="#6757ff" stroke-width="0.45"/>
<path d="M189.49,33.74A114.8,114.8 0 0 1 192.33,35.01L186.25,48.07A100.4,100.4 0 0 0 183.77,46.96Z" fill="#9585ff" stroke="#9585ff" stroke-width="0.45"/>
<path d="M191.87,34.80A114.8,114.8 0 0 1 194.67,36.14L188.31,49.05A100.4,100.4 0 0 0 185.85,47.89Z" fill="#c0b7ff" stroke="#c0b7ff" stroke-width="0.45"/>
<path d="M194.23,35.92A114.8,114.8 0 0 1 197.00,37.32L190.34,50.08A100.4,100.4 0 0 0 187.91,48.86Z" fill="#beb4ff" stroke="#beb4ff" stroke-width="0.45"/>
<path d="M196.55,37.09A114.8,114.8 0 0 1 199.29,38.55L192.34,51.16A100.4,100.4 0 0 0 189.95,49.88Z" fill="#9787ff" stroke="#9787ff" stroke-width="0.45"/>
<path d="M198.85,38.31A114.8,114.8 0 0 1 201.56,39.83L194.33,52.28A100.4,100.4 0 0 0 191.96,50.95Z" fill="#9383ff" stroke="#9383ff" stroke-width="0.45"/>
<path d="M201.13,39.58A114.8,114.8 0 0 1 203.80,41.16L196.28,53.45A100.4,100.4 0 0 0 193.95,52.06Z" fill="#d4ccff" stroke="#d4ccff" stroke-width="0.45"/>
<path d="M203.37,40.90A114.8,114.8 0 0 1 206.00,42.55L198.21,54.66A100.4,100.4 0 0 0 195.91,53.22Z" fill="#c3bbff" stroke="#c3bbff" stroke-width="0.45"/>
<path d="M205.58,42.28A114.8,114.8 0 0 1 208.18,43.98L200.12,55.91A100.4,100.4 0 0 0 197.84,54.42Z" fill="#d4ccff" stroke="#d4ccff" stroke-width="0.45"/>
<path d="M207.76,43.70A114.8,114.8 0 0 1 210.32,45.47L201.99,57.21A100.4,100.4 0 0 0 199.75,55.67Z" fill="#afa2ff" stroke="#afa2ff" stroke-width="0.45"/>
<path d="M209.91,45.18A114.8,114.8 0 0 1 212.43,47.00L203.83,58.55A100.4,100.4 0 0 0 201.63,56.96Z" fill="#b7abff" stroke="#b7abff" stroke-width="0.45"/>
<path d="M212.02,46.70A114.8,114.8 0 0 1 214.50,48.57L205.64,59.93A100.4,100.4 0 0 0 203.48,58.29Z" fill="#ece6ff" stroke="#ece6ff" stroke-width="0.45"/>
<path d="M214.10,48.27A114.8,114.8 0 0 1 216.53,50.20L207.42,61.35A100.4,100.4 0 0 0 205.30,59.66Z" fill="#e5ddff" stroke="#e5ddff" stroke-width="0.45"/>
<path d="M216.15,49.88A114.8,114.8 0 0 1 218.53,51.87L209.17,62.81A100.4,100.4 0 0 0 207.08,61.07Z" fill="#d8d0ff" stroke="#d8d0ff" stroke-width="0.45"/>
<path d="M218.15,51.55A114.8,114.8 0 0 1 220.49,53.59L210.89,64.31A100.4,100.4 0 0 0 208.84,62.53Z" fill="#fef0ec" stroke="#fef0ec" stroke-width="0.45"/>
<path d="M220.12,53.25A114.8,114.8 0 0 1 222.41,55.35L212.56,65.85A100.4,100.4 0 0 0 210.56,64.02Z" fill="#f6f3ff" stroke="#f6f3ff" stroke-width="0.45"/>
<path d="M222.05,55.00A114.8,114.8 0 0 1 224.29,57.15L214.21,67.43A100.4,100.4 0 0 0 212.24,65.55Z" fill="#fcfbff" stroke="#fcfbff" stroke-width="0.45"/>
<path d="M223.93,56.80A114.8,114.8 0 0 1 226.13,58.99L215.82,69.04A100.4,100.4 0 0 0 213.90,67.12Z" fill="#c9c1ff" stroke="#c9c1ff" stroke-width="0.45"/>
<path d="M225.78,58.64A114.8,114.8 0 0 1 227.93,60.88L217.39,70.69A100.4,100.4 0 0 0 215.51,68.73Z" fill="#ece5ff" stroke="#ece5ff" stroke-width="0.45"/>
<path d="M227.59,60.51A114.8,114.8 0 0 1 229.68,62.81L218.92,72.38A100.4,100.4 0 0 0 217.09,70.37Z" fill="#a090ff" stroke="#a090ff" stroke-width="0.45"/>
<path d="M229.35,62.43A114.8,114.8 0 0 1 231.39,64.77L220.42,74.10A100.4,100.4 0 0 0 218.63,72.05Z" fill="#cbc3ff" stroke="#cbc3ff" stroke-width="0.45"/>
<path d="M231.06,64.39A114.8,114.8 0 0 1 233.05,66.78L221.87,75.85A100.4,100.4 0 0 0 220.13,73.76Z" fill="#9787ff" stroke="#9787ff" stroke-width="0.45"/>
<path d="M232.74,66.39A114.8,114.8 0 0 1 234.67,68.82L223.29,77.63A100.4,100.4 0 0 0 221.59,75.51Z" fill="#9383ff" stroke="#9383ff" stroke-width="0.45"/>
<path d="M234.36,68.42A114.8,114.8 0 0 1 236.24,70.89L224.66,79.45A100.4,100.4 0 0 0 223.02,77.29Z" fill="#a899ff" stroke="#a899ff" stroke-width="0.45"/>
<path d="M235.94,70.49A114.8,114.8 0 0 1 237.77,73.01L225.99,81.30A100.4,100.4 0 0 0 224.40,79.10Z" fill="#cac2ff" stroke="#cac2ff" stroke-width="0.45"/>
<path d="M237.48,72.60A114.8,114.8 0 0 1 239.24,75.15L227.28,83.18A100.4,100.4 0 0 0 225.74,80.94Z" fill="#9686ff" stroke="#9686ff" stroke-width="0.45"/>
<path d="M238.96,74.74A114.8,114.8 0 0 1 240.67,77.33L228.53,85.08A100.4,100.4 0 0 0 227.04,82.81Z" fill="#7a6aff" stroke="#7a6aff" stroke-width="0.45"/>
<path d="M240.40,76.91A114.8,114.8 0 0 1 242.04,79.54L229.73,87.02A100.4,100.4 0 0 0 228.29,84.71Z" fill="#8575ff" stroke="#8575ff" stroke-width="0.45"/>
<path d="M241.78,79.12A114.8,114.8 0 0 1 243.37,81.79L230.89,88.98A100.4,100.4 0 0 0 229.51,86.64Z" fill="#5f4fff" stroke="#5f4fff" stroke-width="0.45"/>
<path d="M243.12,81.35A114.8,114.8 0 0 1 244.64,84.06L232.01,90.96A100.4,100.4 0 0 0 230.67,88.60Z" fill="#5848ff" stroke="#5848ff" stroke-width="0.45"/>
<path d="M244.40,83.62A114.8,114.8 0 0 1 245.87,86.36L233.08,92.97A100.4,100.4 0 0 0 231.80,90.58Z" fill="#5343ff" stroke="#5343ff" stroke-width="0.45"/>
<path d="M245.64,85.91A114.8,114.8 0 0 1 247.04,88.68L234.10,95.01A100.4,100.4 0 0 0 232.87,92.59Z" fill="#4b3bff" stroke="#4b3bff" stroke-width="0.45"/>
<path d="M246.82,88.24A114.8,114.8 0 0 1 248.15,91.04L235.08,97.07A100.4,100.4 0 0 0 233.91,94.62Z" fill="#4a3aff" stroke="#4a3aff" stroke-width="0.45"/>
<path d="M247.94,90.58A114.8,114.8 0 0 1 249.22,93.42L236.01,99.15A100.4,100.4 0 0 0 234.89,96.67Z" fill="#4e3eff" stroke="#4e3eff" stroke-width="0.45"/>
<path d="M249.02,92.96A114.8,114.8 0 0 1 250.23,95.82L236.89,101.25A100.4,100.4 0 0 0 235.83,98.74Z" fill="#5747ff" stroke="#5747ff" stroke-width="0.45"/>
<path d="M250.04,95.35A114.8,114.8 0 0 1 251.18,98.24L237.73,103.37A100.4,100.4 0 0 0 236.72,100.84Z" fill="#6f5fff" stroke="#6f5fff" stroke-width="0.45"/>
<path d="M251.00,97.77A114.8,114.8 0 0 1 252.08,100.68L238.51,105.50A100.4,100.4 0 0 0 237.57,102.96Z" fill="#5f4fff" stroke="#5f4fff" stroke-width="0.45"/>
<path d="M251.91,100.21A114.8,114.8 0 0 1 252.93,103.15L239.25,107.66A100.4,100.4 0 0 0 238.36,105.09Z" fill="#7363ff" stroke="#7363ff" stroke-width="0.45"/>
<path d="M252.77,102.67A114.8,114.8 0 0 1 253.71,105.63L239.94,109.83A100.4,100.4 0 0 0 239.11,107.24Z" fill="#5e4eff" stroke="#5e4eff" stroke-width="0.45"/>
<path d="M253.57,105.15A114.8,114.8 0 0 1 254.44,108.13L240.58,112.02A100.4,100.4 0 0 0 239.81,109.41Z" fill="#6e5eff" stroke="#6e5eff" stroke-width="0.45"/>
<path d="M254.31,107.65A114.8,114.8 0 0 1 254.79,109.39L240.88,113.11A100.4,100.4 0 0 0 240.46,111.59Z" fill="#5646ff" stroke="#5646ff" stroke-width="0.45"/>
<path d="M119.23,266.02A129.3,129.3 0 0 1 115.80,265.31L118.95,251.16A114.8,114.8 0 0 0 122.00,251.79Z" fill="#fca189" stroke="#fca189" stroke-width="0.45"/>
<path d="M116.36,265.43A129.3,129.3 0 0 1 112.95,264.64L116.42,250.56A114.8,114.8 0 0 0 119.44,251.26Z" fill="#fca992" stroke="#fca992" stroke-width="0.45"/>
<path d="M113.50,264.77A129.3,129.3 0 0 1 110.11,263.91L113.90,249.91A114.8,114.8 0 0 0 116.91,250.68Z" fill="#fd9375" stroke="#fd9375" stroke-width="0.45"/>
<path d="M110.65,264.05A129.3,129.3 0 0 1 107.29,263.11L111.39,249.20A114.8,114.8 0 0 0 114.38,250.04Z" fill="#fc997d" stroke="#fc997d" stroke-width="0.45"/>
<path d="M107.83,263.27A129.3,129.3 0 0 1 104.48,262.24L108.90,248.44A114.8,114.8 0 0 0 111.87,249.34Z" fill="#fca38b" stroke="#fca38b" stroke-width="0.45"/>
<path d="M105.02,262.42A129.3,129.3 0 0 1 101.70,261.32L106.43,247.61A114.8,114.8 0 0 0 109.38,248.59Z" fill="#fc9f87" stroke="#fc9f87" stroke-width="0.45"/>
<path d="M102.23,261.50A129.3,129.3 0 0 1 98.94,260.33L103.98,246.73A114.8,114.8 0 0 0 106.90,247.78Z" fill="#fcbeab" stroke="#fcbeab" stroke-width="0.45"/>
<path d="M99.46,260.52A129.3,129.3 0 0 1 96.20,259.28L101.55,245.80A114.8,114.8 0 0 0 104.45,246.91Z" fill="#feece8" stroke="#feece8" stroke-width="0.45"/>
<path d="M96.72,259.49A129.3,129.3 0 0 1 93.48,258.17L99.14,244.81A114.8,114.8 0 0 0 102.01,245.99Z" fill="#fcd4c8" stroke="#fcd4c8" stroke-width="0.45"/>
<path d="M94.00,258.38A129.3,129.3 0 0 1 90.79,256.99L96.75,243.77A114.8,114.8 0 0 0 99.60,245.01Z" fill="#fddfd6" stroke="#fddfd6" stroke-width="0.45"/>
<path d="M91.31,257.22A129.3,129.3 0 0 1 88.13,255.76L94.39,242.67A114.8,114.8 0 0 0 97.21,243.98Z" fill="#fdded5" stroke="#fdded5" stroke-width="0.45"/>
<path d="M88.64,256.00A129.3,129.3 0 0 1 85.50,254.46L92.05,241.52A114.8,114.8 0 0 0 94.84,242.89Z" fill="#fdd6ca" stroke="#fdd6ca" stroke-width="0.45"/>
<path d="M86.00,254.71A129.3,129.3 0 0 1 82.90,253.11L89.74,240.32A114.8,114.8 0 0 0 92.50,241.75Z" fill="#fde4dd" stroke="#fde4dd" stroke-width="0.45"/>
<path d="M83.40,253.37A129.3,129.3 0 0 1 80.33,251.69L87.46,239.07A114.8,114.8 0 0 0 90.18,240.56Z" fill="#fddfd7" stroke="#fddfd7" stroke-width="0.45"/>
<path d="M80.82,251.97A129.3,129.3 0 0 1 77.79,250.22L85.20,237.76A114.8,114.8 0 0 0 87.89,239.31Z" fill="#fddbd1" stroke="#fddbd1" stroke-width="0.45"/>
<path d="M78.28,250.51A129.3,129.3 0 0 1 75.29,248.69L82.98,236.40A114.8,114.8 0 0 0 85.63,238.02Z" fill="#fdd4c9" stroke="#fdd4c9" stroke-width="0.45"/>
<path d="M75.76,248.99A129.3,129.3 0 0 1 72.82,247.11L80.79,235.00A114.8,114.8 0 0 0 83.41,236.67Z" fill="#feeeea" stroke="#feeeea" stroke-width="0.45"/>
<path d="M73.29,247.42A129.3,129.3 0 0 1 70.38,245.47L78.63,233.54A114.8,114.8 0 0 0 81.21,235.27Z" fill="#fddad0" stroke="#fddad0" stroke-width="0.45"/>
<path d="M70.85,245.79A129.3,129.3 0 0 1 67.99,243.77L76.50,232.03A114.8,114.8 0 0 0 79.04,233.82Z" fill="#fdded6" stroke="#fdded6" stroke-width="0.45"/>
<path d="M68.45,244.10A129.3,129.3 0 0 1 65.64,242.02L74.41,230.48A114.8,114.8 0 0 0 76.91,232.33Z" fill="#fde4dd" stroke="#fde4dd" stroke-width="0.45"/>
<path d="M66.09,242.36A129.3,129.3 0 0 1 63.32,240.22L72.36,228.88A114.8,114.8 0 0 0 74.81,230.78Z" fill="#fef6f3" stroke="#fef6f3" stroke-width="0.45"/>
<path d="M63.76,240.57A129.3,129.3 0 0 1 61.05,238.37L70.34,227.23A114.8,114.8 0 0 0 72.75,229.19Z" fill="#fffdfc" stroke="#fffdfc" stroke-width="0.45"/>
<path d="M61.48,238.73A129.3,129.3 0 0 1 58.82,236.46L68.36,225.54A114.8,114.8 0 0 0 70.72,227.55Z" fill="#ece6ff" stroke="#ece6ff" stroke-width="0.45"/>
<path d="M59.24,236.83A129.3,129.3 0 0 1 56.63,234.51L66.42,223.81A114.8,114.8 0 0 0 68.74,225.87Z" fill="#f5f1ff" stroke="#f5f1ff" stroke-width="0.45"/>
<path d="M57.05,234.89A129.3,129.3 0 0 1 54.49,232.50L64.51,222.03A114.8,114.8 0 0 0 66.79,224.14Z" fill="#f4f1ff" stroke="#f4f1ff" stroke-width="0.45"/>
<path d="M54.90,232.89A129.3,129.3 0 0 1 52.39,230.45L62.65,220.20A114.8,114.8 0 0 0 64.88,222.37Z" fill="#fdded6" stroke="#fdded6" stroke-width="0.45"/>
<path d="M52.79,230.85A129.3,129.3 0 0 1 50.34,228.35L60.83,218.34A114.8,114.8 0 0 0 63.01,220.56Z" fill="#fef4f1" stroke="#fef4f1" stroke-width="0.45"/>
<path d="M50.73,228.76A129.3,129.3 0 0 1 48.34,226.20L59.06,216.44A114.8,114.8 0 0 0 61.18,218.70Z" fill="#feeeea" stroke="#feeeea" stroke-width="0.45"/>
<path d="M48.72,226.62A129.3,129.3 0 0 1 46.39,224.01L57.33,214.49A114.8,114.8 0 0 0 59.40,216.81Z" fill="#fde8e2" stroke="#fde8e2" stroke-width="0.45"/>
<path d="M46.76,224.44A129.3,129.3 0 0 1 44.49,221.78L55.64,212.51A114.8,114.8 0 0 0 57.65,214.87Z" fill="#fccbbc" stroke="#fccbbc" stroke-width="0.45"/>
<path d="M44.85,222.21A129.3,129.3 0 0 1 42.64,219.50L53.99,210.49A114.8,114.8 0 0 0 55.96,212.89Z" fill="#fcc3b2" stroke="#fcc3b2" stroke-width="0.45"/>
<path d="M42.99,219.94A129.3,129.3 0 0 1 40.84,217.18L52.40,208.43A114.8,114.8 0 0 0 54.31,210.88Z" fill="#fcc2b1" stroke="#fcc2b1" stroke-width="0.45"/>
<path d="M41.18,217.63A129.3,129.3 0 0 1 39.10,214.83L50.85,206.33A114.8,114.8 0 0 0 52.70,208.83Z" fill="#fcc7b7" stroke="#fcc7b7" stroke-width="0.45"/>
<path d="M39.43,215.28A129.3,129.3 0 0 1 37.40,212.43L49.35,204.21A114.8,114.8 0 0 0 51.14,206.74Z" fill="#fcc0ae" stroke="#fcc0ae" stroke-width="0.45"/>
<path d="M37.73,212.89A129.3,129.3 0 0 1 35.77,209.99L47.89,202.04A114.8,114.8 0 0 0 49.63,204.62Z" fill="#fcbaa7" stroke="#fcbaa7" stroke-width="0.45"/>
<path d="M36.08,210.47A129.3,129.3 0 0 1 34.19,207.52L46.49,199.85A114.8,114.8 0 0 0 48.17,202.46Z" fill="#fcb29d" stroke="#fcb29d" stroke-width="0.45"/>
<path d="M34.49,208.00A129.3,129.3 0 0 1 32.66,205.02L45.14,197.62A114.8,114.8 0 0 0 46.76,200.27Z" fill="#fcbaa6" stroke="#fcbaa6" stroke-width="0.45"/>
<path d="M32.95,205.50A129.3,129.3 0 0 1 31.20,202.48L43.84,195.37A114.8,114.8 0 0 0 45.39,198.05Z" fill="#fcae97" stroke="#fcae97" stroke-width="0.45"/>
<path d="M31.47,202.97A129.3,129.3 0 0 1 29.79,199.90L42.58,193.08A114.8,114.8 0 0 0 44.08,195.80Z" fill="#fcb39e" stroke="#fcb39e" stroke-width="0.45"/>
<path d="M30.05,200.40A129.3,129.3 0 0 1 28.44,197.30L41.39,190.77A114.8,114.8 0 0 0 42.82,193.53Z" fill="#fc9d84" stroke="#fc9d84" stroke-width="0.45"/>
<path d="M28.69,197.80A129.3,129.3 0 0 1 27.15,194.66L40.24,188.43A114.8,114.8 0 0 0 41.61,191.22Z" fill="#fc9d83" stroke="#fc9d83" stroke-width="0.45"/>
<path d="M27.39,195.17A129.3,129.3 0 0 1 25.92,192.00L39.15,186.07A114.8,114.8 0 0 0 40.46,188.88Z" fill="#fcaa93" stroke="#fcaa93" stroke-width="0.45"/>
<path d="M26.15,192.51A129.3,129.3 0 0 1 24.75,189.31L38.11,183.68A114.8,114.8 0 0 0 39.35,186.52Z" fill="#fcb39d" stroke="#fcb39d" stroke-width="0.45"/>
<path d="M24.97,189.83A129.3,129.3 0 0 1 23.64,186.59L37.12,181.27A114.8,114.8 0 0 0 38.30,184.14Z" fill="#fc9b80" stroke="#fc9b80" stroke-width="0.45"/>
<path d="M23.85,187.12A129.3,129.3 0 0 1 22.59,183.85L36.20,178.83A114.8,114.8 0 0 0 37.31,181.73Z" fill="#fcae98" stroke="#fcae98" stroke-width="0.45"/>
<path d="M22.79,184.38A129.3,129.3 0 0 1 21.61,181.09L35.32,176.38A114.8,114.8 0 0 0 36.37,179.30Z" fill="#fcab95" stroke="#fcab95" stroke-width="0.45"/>
<path d="M21.79,181.62A129.3,129.3 0 0 1 20.69,178.30L34.50,173.91A114.8,114.8 0 0 0 35.49,176.85Z" fill="#fcb7a3" stroke="#fcb7a3" stroke-width="0.45"/>
<path d="M20.86,178.84A129.3,129.3 0 0 1 19.83,175.50L33.74,171.42A114.8,114.8 0 0 0 34.66,174.38Z" fill="#fcab94" stroke="#fcab94" stroke-width="0.45"/>
<path d="M19.99,176.04A129.3,129.3 0 0 1 19.04,172.67L33.04,168.91A114.8,114.8 0 0 0 33.88,171.90Z" fill="#fca891" stroke="#fca891" stroke-width="0.45"/>
<path d="M19.18,173.22A129.3,129.3 0 0 1 18.31,169.83L32.39,166.39A114.8,114.8 0 0 0 33.17,169.39Z" fill="#fca790" stroke="#fca790" stroke-width="0.45"/>
<path d="M18.44,170.38A129.3,129.3 0 0 1 17.64,166.98L31.80,163.85A114.8,114.8 0 0 0 32.51,166.87Z" fill="#fc9f86" stroke="#fc9f86" stroke-width="0.45"/>
<path d="M17.76,167.53A129.3,129.3 0 0 1 17.04,164.10L31.27,161.30A114.8,114.8 0 0 0 31.91,164.34Z" fill="#fd7252" stroke="#fd7252" stroke-width="0.45"/>
<path d="M17.15,164.66A129.3,129.3 0 0 1 16.51,161.22L30.79,158.74A114.8,114.8 0 0 0 31.36,161.79Z" fill="#fd8161" stroke="#fd8161" stroke-width="0.45"/>
<path d="M16.60,161.77A129.3,129.3 0 0 1 16.04,158.32L30.38,156.17A114.8,114.8 0 0 0 30.88,159.23Z" fill="#fd7858" stroke="#fd7858" stroke-width="0.45"/>
<path d="M16.12,158.88A129.3,129.3 0 0 1 15.63,155.42L30.02,153.59A114.8,114.8 0 0 0 30.45,156.66Z" fill="#fd7e5e" stroke="#fd7e5e" stroke-width="0.45"/>
<path d="M15.71,155.98A129.3,129.3 0 0 1 15.30,152.50L29.72,151.00A114.8,114.8 0 0 0 30.08,154.08Z" fill="#fca088" stroke="#fca088" stroke-width="0.45"/>
<path d="M15.36,153.06A129.3,129.3 0 0 1 15.03,149.58L29.48,148.41A114.8,114.8 0 0 0 29.77,151.50Z" fill="#fcccbe" stroke="#fcccbe" stroke-width="0.45"/>
<path d="M15.07,150.14A129.3,129.3 0 0 1 14.82,146.66L29.30,145.81A114.8,114.8 0 0 0 29.52,148.91Z" fill="#fccdbf" stroke="#fccdbf" stroke-width="0.45"/>
<path d="M14.86,147.22A129.3,129.3 0 0 1 14.68,143.73L29.17,143.21A114.8,114.8 0 0 0 29.33,146.31Z" fill="#fcc5b4" stroke="#fcc5b4" stroke-width="0.45"/>
<path d="M14.70,144.29A129.3,129.3 0 0 1 14.61,140.79L29.11,140.60A114.8,114.8 0 0 0 29.19,143.71Z" fill="#fcc7b7" stroke="#fcc7b7" stroke-width="0.45"/>
<path d="M14.62,141.36A129.3,129.3 0 0 1 14.61,137.86L29.11,138.00A114.8,114.8 0 0 0 29.12,141.10Z" fill="#fcbca8" stroke="#fcbca8" stroke-width="0.45"/>
<path d="M14.60,138.42A129.3,129.3 0 0 1 14.67,134.93L29.16,135.39A114.8,114.8 0 0 0 29.10,138.50Z" fill="#fcbeac" stroke="#fcbeac" stroke-width="0.45"/>
<path d="M14.65,135.49A129.3,129.3 0 0 1 14.80,131.99L29.27,132.79A114.8,114.8 0 0 0 29.14,135.89Z" fill="#fcb8a4" stroke="#fcb8a4" stroke-width="0.45"/>
<path d="M14.77,132.56A129.3,129.3 0 0 1 14.99,129.07L29.45,130.19A114.8,114.8 0 0 0 29.25,133.29Z" fill="#fcbdaa" stroke="#fcbdaa" stroke-width="0.45"/>
<path d="M14.95,129.63A129.3,129.3 0 0 1 15.25,126.15L29.68,127.60A114.8,114.8 0 0 0 29.41,130.69Z" fill="#fcbca9" stroke="#fcbca9" stroke-width="0.45"/>
<path d="M15.20,126.71A129.3,129.3 0 0 1 15.58,123.23L29.97,125.01A114.8,114.8 0 0 0 29.63,128.10Z" fill="#fcb49f" stroke="#fcb49f" stroke-width="0.45"/>
<path d="M15.51,123.79A129.3,129.3 0 0 1 15.97,120.32L30.32,122.43A114.8,114.8 0 0 0 29.91,125.51Z" fill="#fcc2b1" stroke="#fcc2b1" stroke-width="0.45"/>
<path d="M15.89,120.88A129.3,129.3 0 0 1 16.43,117.43L30.72,119.86A114.8,114.8 0 0 0 30.25,122.92Z" fill="#fcc2b0" stroke="#fcc2b0" stroke-width="0.45"/>
<path d="M16.34,117.98A129.3,129.3 0 0 1 16.95,114.54L31.19,117.29A114.8,114.8 0 0 0 30.64,120.35Z" fill="#fcaa93" stroke="#fcaa93" stroke-width="0.45"/>
<path d="M16.85,115.09A129.3,129.3 0 0 1 17.54,111.67L31.71,114.74A114.8,114.8 0 0 0 31.10,117.79Z" fill="#fcc3b1" stroke="#fcc3b1" stroke-width="0.45"/>
<path d="M17.43,112.22A129.3,129.3 0 0 1 18.20,108.81L32.30,112.20A114.8,114.8 0 0 0 31.61,115.23Z" fill="#fcad97" stroke="#fcad97" stroke-width="0.45"/>
<path d="M18.07,109.35A129.3,129.3 0 0 1 18.92,105.96L32.93,109.68A114.8,114.8 0 0 0 32.18,112.69Z" fill="#fcad97" stroke="#fcad97" stroke-width="0.45"/>
<path d="M18.78,106.51A129.3,129.3 0 0 1 19.70,103.13L33.63,107.17A114.8,114.8 0 0 0 32.81,110.16Z" fill="#fcb6a2" stroke="#fcb6a2" stroke-width="0.45"/>
<path d="M19.55,103.68A129.3,129.3 0 0 1 20.55,100.33L34.38,104.67A114.8,114.8 0 0 0 33.49,107.65Z" fill="#fd7151" stroke="#fd7151" stroke-width="0.45"/>
<path d="M20.38,100.86A129.3,129.3 0 0 1 21.46,97.54L35.19,102.20A114.8,114.8 0 0 0 34.23,105.15Z" fill="#ff3c21" stroke="#ff3c21" stroke-width="0.45"/>
<path d="M21.28,98.07A129.3,129.3 0 0 1 22.44,94.77L36.06,99.74A114.8,114.8 0 0 0 35.03,102.67Z" fill="#ff3f23" stroke="#ff3f23" stroke-width="0.45"/>
<path d="M22.24,95.30A129.3,129.3 0 0 1 23.47,92.03L36.98,97.31A114.8,114.8 0 0 0 35.89,100.21Z" fill="#ff3c21" stroke="#ff3c21" stroke-width="0.45"/>
<path d="M23.27,92.55A129.3,129.3 0 0 1 24.57,89.31L37.95,94.89A114.8,114.8 0 0 0 36.80,97.77Z" fill="#ff391f" stroke="#ff391f" stroke-width="0.45"/>
<path d="M24.36,89.83A129.3,129.3 0 0 1 25.73,86.61L38.98,92.50A114.8,114.8 0 0 0 37.76,95.35Z" fill="#ff5131" stroke="#ff5131" stroke-width="0.45"/>
<path d="M25.50,87.13A129.3,129.3 0 0 1 26.95,83.94L40.07,90.13A114.8,114.8 0 0 0 38.78,92.96Z" fill="#fe5a3a" stroke="#fe5a3a" stroke-width="0.45"/>
<path d="M26.71,84.46A129.3,129.3 0 0 1 28.24,81.31L41.21,87.79A114.8,114.8 0 0 0 39.86,90.58Z" fill="#fd7252" stroke="#fd7252" stroke-width="0.45"/>
<path d="M27.98,81.81A129.3,129.3 0 0 1 29.58,78.70L42.40,85.47A114.8,114.8 0 0 0 40.98,88.24Z" fill="#fd7151" stroke="#fd7151" stroke-width="0.45"/>
<path d="M29.31,79.20A129.3,129.3 0 0 1 30.98,76.12L43.64,83.18A114.8,114.8 0 0 0 42.16,85.91Z" fill="#fd7858" stroke="#fd7858" stroke-width="0.45"/>
<path d="M30.70,76.61A129.3,129.3 0 0 1 32.43,73.57L44.93,80.92A114.8,114.8 0 0 0 43.40,83.62Z" fill="#fd7d5d" stroke="#fd7d5d" stroke-width="0.45"/>
<path d="M32.15,74.06A129.3,129.3 0 0 1 33.95,71.06L46.28,78.69A114.8,114.8 0 0 0 44.68,81.35Z" fill="#fd8a6a" stroke="#fd8a6a" stroke-width="0.45"/>
<path d="M33.65,71.54A129.3,129.3 0 0 1 35.52,68.58L47.68,76.49A114.8,114.8 0 0 0 46.02,79.12Z" fill="#fd8363" stroke="#fd8363" stroke-width="0.45"/>
<path d="M35.21,69.06A129.3,129.3 0 0 1 37.15,66.14L49.12,74.32A114.8,114.8 0 0 0 47.40,76.91Z" fill="#fd8d6d" stroke="#fd8d6d" stroke-width="0.45"/>
<path d="M36.83,66.61A129.3,129.3 0 0 1 38.83,63.74L50.61,72.19A114.8,114.8 0 0 0 48.84,74.74Z" fill="#fd9070" stroke="#fd9070" stroke-width="0.45"/>
<path d="M38.50,64.20A129.3,129.3 0 0 1 40.57,61.38L52.16,70.09A114.8,114.8 0 0 0 50.32,72.60Z" fill="#fc9e86" stroke="#fc9e86" stroke-width="0.45"/>
<path d="M40.23,61.83A129.3,129.3 0 0 1 42.36,59.05L53.75,68.03A114.8,114.8 0 0 0 51.86,70.49Z" fill="#fca68e" stroke="#fca68e" stroke-width="0.45"/>
<path d="M42.01,59.49A129.3,129.3 0 0 1 44.20,56.77L55.38,66.00A114.8,114.8 0 0 0 53.44,68.42Z" fill="#fca48c" stroke="#fca48c" stroke-width="0.45"/>
<path d="M43.84,57.20A129.3,129.3 0 0 1 46.09,54.53L57.06,64.01A114.8,114.8 0 0 0 55.06,66.39Z" fill="#fc9e85" stroke="#fc9e85" stroke-width="0.45"/>
<path d="M45.73,54.95A129.3,129.3 0 0 1 48.04,52.33L58.79,62.06A114.8,114.8 0 0 0 56.74,64.39Z" fill="#fca891" stroke="#fca891" stroke-width="0.45"/>
<path d="M47.66,52.75A129.3,129.3 0 0 1 50.03,50.18L60.56,60.15A114.8,114.8 0 0 0 58.45,62.43Z" fill="#fd9577" stroke="#fd9577" stroke-width="0.45"/>
<path d="M49.64,50.59A129.3,129.3 0 0 1 52.07,48.07L62.37,58.28A114.8,114.8 0 0 0 60.21,60.51Z" fill="#fc9f86" stroke="#fc9f86" stroke-width="0.45"/>
<path d="M51.68,48.47A129.3,129.3 0 0 1 54.16,46.01L64.23,56.45A114.8,114.8 0 0 0 62.02,58.64Z" fill="#fc9e85" stroke="#fc9e85" stroke-width="0.45"/>
<path d="M53.76,46.40A129.3,129.3 0 0 1 56.30,44.00L66.12,54.66A114.8,114.8 0 0 0 63.87,56.80Z" fill="#fc9c82" stroke="#fc9c82" stroke-width="0.45"/>
<path d="M55.88,44.38A129.3,129.3 0 0 1 58.48,42.04L68.06,52.92A114.8,114.8 0 0 0 65.75,55.00Z" fill="#fc997d" stroke="#fc997d" stroke-width="0.45"/>
<path d="M58.05,42.41A129.3,129.3 0 0 1 60.70,40.12L70.03,51.22A114.8,114.8 0 0 0 67.68,53.25Z" fill="#fc9c82" stroke="#fc9c82" stroke-width="0.45"/>
<path d="M60.27,40.49A129.3,129.3 0 0 1 62.97,38.26L72.04,49.57A114.8,114.8 0 0 0 69.65,51.55Z" fill="#fcaa93" stroke="#fcaa93" stroke-width="0.45"/>
<path d="M62.53,38.62A129.3,129.3 0 0 1 65.28,36.45L74.09,47.96A114.8,114.8 0 0 0 71.65,49.88Z" fill="#fd9476" stroke="#fd9476" stroke-width="0.45"/>
<path d="M64.83,36.79A129.3,129.3 0 0 1 67.63,34.69L76.18,46.40A114.8,114.8 0 0 0 73.70,48.27Z" fill="#fd987c" stroke="#fd987c" stroke-width="0.45"/>
<path d="M67.17,35.03A129.3,129.3 0 0 1 70.01,32.99L78.30,44.89A114.8,114.8 0 0 0 75.78,46.70Z" fill="#fca189" stroke="#fca189" stroke-width="0.45"/>
<path d="M69.55,33.31A129.3,129.3 0 0 1 72.44,31.34L80.45,43.43A114.8,114.8 0 0 0 77.89,45.18Z" fill="#fca18a" stroke="#fca18a" stroke-width="0.45"/>
<path d="M71.97,31.65A129.3,129.3 0 0 1 74.90,29.75L82.64,42.01A114.8,114.8 0 0 0 80.04,43.70Z" fill="#fc9e85" stroke="#fc9e85" stroke-width="0.45"/>
<path d="M74.43,30.05A129.3,129.3 0 0 1 77.40,28.21L84.86,40.65A114.8,114.8 0 0 0 82.22,42.28Z" fill="#fcb29c" stroke="#fcb29c" stroke-width="0.45"/>
<path d="M76.92,28.50A129.3,129.3 0 0 1 79.94,26.73L87.11,39.33A114.8,114.8 0 0 0 84.43,40.90Z" fill="#fc9d84" stroke="#fc9d84" stroke-width="0.45"/>
<path d="M79.45,27.01A129.3,129.3 0 0 1 82.50,25.31L89.39,38.07A114.8,114.8 0 0 0 86.67,39.58Z" fill="#fcac95" stroke="#fcac95" stroke-width="0.45"/>
<path d="M82.01,25.58A129.3,129.3 0 0 1 85.10,23.94L91.69,36.86A114.8,114.8 0 0 0 88.95,38.31Z" fill="#fcb09a" stroke="#fcb09a" stroke-width="0.45"/>
<path d="M84.60,24.20A129.3,129.3 0 0 1 87.73,22.64L94.03,35.70A114.8,114.8 0 0 0 91.25,37.09Z" fill="#fca891" stroke="#fca891" stroke-width="0.45"/>
<path d="M87.22,22.89A129.3,129.3 0 0 1 90.38,21.40L96.38,34.59A114.8,114.8 0 0 0 93.57,35.92Z" fill="#fc997d" stroke="#fc997d" stroke-width="0.45"/>
<path d="M89.87,21.63A129.3,129.3 0 0 1 93.07,20.21L98.77,33.54A114.8,114.8 0 0 0 95.93,34.80Z" fill="#fca790" stroke="#fca790" stroke-width="0.45"/>
<path d="M92.55,20.43A129.3,129.3 0 0 1 95.78,19.09L101.17,32.55A114.8,114.8 0 0 0 98.31,33.74Z" fill="#fd9679" stroke="#fd9679" stroke-width="0.45"/>
<path d="M95.25,19.30A129.3,129.3 0 0 1 98.51,18.03L103.60,31.61A114.8,114.8 0 0 0 100.71,32.73Z" fill="#fd8e6e" stroke="#fd8e6e" stroke-width="0.45"/>
<path d="M97.98,18.23A129.3,129.3 0 0 1 101.27,17.03L106.05,30.72A114.8,114.8 0 0 0 103.13,31.78Z" fill="#fc9a7f" stroke="#fc9a7f" stroke-width="0.45"/>
<path d="M100.74,17.22A129.3,129.3 0 0 1 104.05,16.09L108.52,29.89A114.8,114.8 0 0 0 105.58,30.88Z" fill="#fc9c82" stroke="#fc9c82" stroke-width="0.45"/>
<path d="M103.52,16.27A129.3,129.3 0 0 1 106.85,15.22L111.01,29.11A114.8,114.8 0 0 0 108.04,30.04Z" fill="#fd987b" stroke="#fd987b" stroke-width="0.45"/>
<path d="M106.31,15.38A129.3,129.3 0 0 1 109.67,14.41L113.51,28.40A114.8,114.8 0 0 0 110.53,29.26Z" fill="#fd9071" stroke="#fd9071" stroke-width="0.45"/>
<path d="M109.13,14.56A129.3,129.3 0 0 1 112.51,13.67L116.03,27.73A114.8,114.8 0 0 0 113.03,28.53Z" fill="#fd8c6c" stroke="#fd8c6c" stroke-width="0.45"/>
<path d="M111.96,13.81A129.3,129.3 0 0 1 115.36,12.99L118.56,27.13A114.8,114.8 0 0 0 115.54,27.86Z" fill="#fd8f6f" stroke="#fd8f6f" stroke-width="0.45"/>
<path d="M114.81,13.11A129.3,129.3 0 0 1 118.23,12.37L121.11,26.58A114.8,114.8 0 0 0 118.08,27.24Z" fill="#fd8c6c" stroke="#fd8c6c" stroke-width="0.45"/>
<path d="M117.68,12.49A129.3,129.3 0 0 1 121.11,11.82L123.67,26.10A114.8,114.8 0 0 0 120.62,26.69Z" fill="#fc9b81" stroke="#fc9b81" stroke-width="0.45"/>
<path d="M120.56,11.92A129.3,129.3 0 0 1 124.01,11.34L126.24,25.67A114.8,114.8 0 0 0 123.18,26.19Z" fill="#fd987c" stroke="#fd987c" stroke-width="0.45"/>
<path d="M123.45,11.43A129.3,129.3 0 0 1 126.91,10.92L128.82,25.30A114.8,114.8 0 0 0 125.74,25.74Z" fill="#fd9578" stroke="#fd9578" stroke-width="0.45"/>
<path d="M126.35,11.00A129.3,129.3 0 0 1 129.82,10.57L131.40,24.98A114.8,114.8 0 0 0 128.32,25.36Z" fill="#fd8666" stroke="#fd8666" stroke-width="0.45"/>
<path d="M129.26,10.63A129.3,129.3 0 0 1 132.74,10.28L133.99,24.73A114.8,114.8 0 0 0 130.90,25.04Z" fill="#fd9476" stroke="#fd9476" stroke-width="0.45"/>
<path d="M132.18,10.33A129.3,129.3 0 0 1 135.67,10.06L136.59,24.53A114.8,114.8 0 0 0 133.50,24.77Z" fill="#fd8c6c" stroke="#fd8c6c" stroke-width="0.45"/>
<path d="M135.11,10.10A129.3,129.3 0 0 1 138.60,9.91L139.19,24.40A114.8,114.8 0 0 0 136.09,24.57Z" fill="#fc9d84" stroke="#fc9d84" stroke-width="0.45"/>
<path d="M138.03,9.93A129.3,129.3 0 0 1 141.53,9.82L141.80,24.32A114.8,114.8 0 0 0 138.69,24.42Z" fill="#fc9c82" stroke="#fc9c82" stroke-width="0.45"/>
<path d="M140.97,9.83A129.3,129.3 0 0 1 144.46,9.80L144.40,24.30A114.8,114.8 0 0 0 141.30,24.33Z" fill="#fd967a" stroke="#fd967a" stroke-width="0.45"/>
<path d="M143.90,9.80A129.3,129.3 0 0 1 147.40,9.85L147.01,24.34A114.8,114.8 0 0 0 143.90,24.30Z" fill="#fd8969" stroke="#fd8969" stroke-width="0.45"/>
<path d="M146.83,9.83A129.3,129.3 0 0 1 150.33,9.96L149.61,24.44A114.8,114.8 0 0 0 146.50,24.33Z" fill="#fd8868" stroke="#fd8868" stroke-width="0.45"/>
<path d="M149.77,9.93A129.3,129.3 0 0 1 153.26,10.14L152.21,24.60A114.8,114.8 0 0 0 149.11,24.42Z" fill="#fd8767" stroke="#fd8767" stroke-width="0.45"/>
<path d="M152.69,10.10A129.3,129.3 0 0 1 156.18,10.38L154.80,24.82A114.8,114.8 0 0 0 151.71,24.57Z" fill="#fd9375" stroke="#fd9375" stroke-width="0.45"/>
<path d="M155.62,10.33A129.3,129.3 0 0 1 159.10,10.70L157.39,25.10A114.8,114.8 0 0 0 154.30,24.77Z" fill="#fd8b6b" stroke="#fd8b6b" stroke-width="0.45"/>
<path d="M158.54,10.63A129.3,129.3 0 0 1 162.01,11.07L159.98,25.43A114.8,114.8 0 0 0 156.90,25.04Z" fill="#fd8c6c" stroke="#fd8c6c" stroke-width="0.45"/>
<path d="M161.45,11.00A129.3,129.3 0 0 1 164.91,11.52L162.55,25.83A114.8,114.8 0 0 0 159.48,25.36Z" fill="#fd8b6b" stroke="#fd8b6b" stroke-width="0.45"/>
<path d="M164.35,11.43A129.3,129.3 0 0 1 167.80,12.03L165.12,26.28A114.8,114.8 0 0 0 162.06,25.74Z" fill="#fd9577" stroke="#fd9577" stroke-width="0.45"/>
<path d="M167.24,11.92A129.3,129.3 0 0 1 170.67,12.60L167.67,26.79A114.8,114.8 0 0 0 164.62,26.19Z" fill="#fd7a5a" stroke="#fd7a5a" stroke-width="0.45"/>
<path d="M170.12,12.49A129.3,129.3 0 0 1 173.54,13.24L170.21,27.36A114.8,114.8 0 0 0 167.18,26.69Z" fill="#fd9172" stroke="#fd9172" stroke-width="0.45"/>
<path d="M172.99,13.11A129.3,129.3 0 0 1 176.38,13.95L172.74,27.98A114.8,114.8 0 0 0 169.72,27.24Z" fill="#fd7656" stroke="#fd7656" stroke-width="0.45"/>
<path d="M175.84,13.81A129.3,129.3 0 0 1 179.21,14.72L175.25,28.66A114.8,114.8 0 0 0 172.26,27.86Z" fill="#fd7757" stroke="#fd7757" stroke-width="0.45"/>
<path d="M178.67,14.56A129.3,129.3 0 0 1 182.03,15.55L177.75,29.40A114.8,114.8 0 0 0 174.77,28.53Z" fill="#fd9578" stroke="#fd9578" stroke-width="0.45"/>
<path d="M181.49,15.38A129.3,129.3 0 0 1 184.82,16.45L180.23,30.20A114.8,114.8 0 0 0 177.27,29.26Z" fill="#fd8666" stroke="#fd8666" stroke-width="0.45"/>
<path d="M184.28,16.27A129.3,129.3 0 0 1 187.59,17.41L182.69,31.05A114.8,114.8 0 0 0 179.76,30.04Z" fill="#fd7959" stroke="#fd7959" stroke-width="0.45"/>
<path d="M187.06,17.22A129.3,129.3 0 0 1 190.34,18.43L185.13,31.96A114.8,114.8 0 0 0 182.22,30.88Z" fill="#fd7454" stroke="#fd7454" stroke-width="0.45"/>
<path d="M189.82,18.23A129.3,129.3 0 0 1 193.07,19.51L187.55,32.92A114.8,114.8 0 0 0 184.67,31.78Z" fill="#fd8767" stroke="#fd8767" stroke-width="0.45"/>
<path d="M192.55,19.30A129.3,129.3 0 0 1 195.77,20.66L189.95,33.94A114.8,114.8 0 0 0 187.09,32.73Z" fill="#fd8f6f" stroke="#fd8f6f" stroke-width="0.45"/>
<path d="M195.25,20.43A129.3,129.3 0 0 1 198.44,21.87L192.33,35.01A114.8,114.8 0 0 0 189.49,33.74Z" fill="#fd9273" stroke="#fd9273" stroke-width="0.45"/>
<path d="M197.93,21.63A129.3,129.3 0 0 1 201.09,23.13L194.67,36.14A114.8,114.8 0 0 0 191.87,34.80Z" fill="#fd7b5b" stroke="#fd7b5b" stroke-width="0.45"/>
<path d="M200.58,22.89A129.3,129.3 0 0 1 203.70,24.46L197.00,37.32A114.8,114.8 0 0 0 194.23,35.92Z" fill="#fd9577" stroke="#fd9577" stroke-width="0.45"/>
<path d="M203.20,24.20A129.3,129.3 0 0 1 206.29,25.85L199.29,38.55A114.8,114.8 0 0 0 196.55,37.09Z" fill="#fd8b6b" stroke="#fd8b6b" stroke-width="0.45"/>
<path d="M205.79,25.58A129.3,129.3 0 0 1 208.84,27.29L201.56,39.83A114.8,114.8 0 0 0 198.85,38.31Z" fill="#fc997e" stroke="#fc997e" stroke-width="0.45"/>
<path d="M208.35,27.01A129.3,129.3 0 0 1 211.36,28.79L203.80,41.16A114.8,114.8 0 0 0 201.13,39.58Z" fill="#fd8f6f" stroke="#fd8f6f" stroke-width="0.45"/>
<path d="M210.88,28.50A129.3,129.3 0 0 1 213.85,30.35L206.00,42.55A114.8,114.8 0 0 0 203.37,40.90Z" fill="#fd8161" stroke="#fd8161" stroke-width="0.45"/>
<path d="M213.37,30.05A129.3,129.3 0 0 1 216.30,31.97L208.18,43.98A114.8,114.8 0 0 0 205.58,42.28Z" fill="#fc9b80" stroke="#fc9b80" stroke-width="0.45"/>
<path d="M215.83,31.65A129.3,129.3 0 0 1 218.71,33.64L210.32,45.47A114.8,114.8 0 0 0 207.76,43.70Z" fill="#fd8666" stroke="#fd8666" stroke-width="0.45"/>
<path d="M218.25,33.31A129.3,129.3 0 0 1 221.08,35.36L212.43,47.00A114.8,114.8 0 0 0 209.91,45.18Z" fill="#fd9171" stroke="#fd9171" stroke-width="0.45"/>
<path d="M220.63,35.03A129.3,129.3 0 0 1 223.42,37.14L214.50,48.57A114.8,114.8 0 0 0 212.02,46.70Z" fill="#fd8464" stroke="#fd8464" stroke-width="0.45"/>
<path d="M222.97,36.79A129.3,129.3 0 0 1 225.71,38.97L216.53,50.20A114.8,114.8 0 0 0 214.10,48.27Z" fill="#fd8b6b" stroke="#fd8b6b" stroke-width="0.45"/>
<path d="M225.27,38.62A129.3,129.3 0 0 1 227.96,40.85L218.53,51.87A114.8,114.8 0 0 0 216.15,49.88Z" fill="#fc997e" stroke="#fc997e" stroke-width="0.45"/>
<path d="M227.53,40.49A129.3,129.3 0 0 1 230.17,42.79L220.49,53.59A114.8,114.8 0 0 0 218.15,51.55Z" fill="#fd8565" stroke="#fd8565" stroke-width="0.45"/>
<path d="M229.75,42.41A129.3,129.3 0 0 1 232.33,44.77L222.41,55.35A114.8,114.8 0 0 0 220.12,53.25Z" fill="#fd9374" stroke="#fd9374" stroke-width="0.45"/>
<path d="M231.92,44.38A129.3,129.3 0 0 1 234.45,46.80L224.29,57.15A114.8,114.8 0 0 0 222.05,55.00Z" fill="#fca088" stroke="#fca088" stroke-width="0.45"/>
<path d="M234.04,46.40A129.3,129.3 0 0 1 236.52,48.88L226.13,58.99A114.8,114.8 0 0 0 223.93,56.80Z" fill="#fca189" stroke="#fca189" stroke-width="0.45"/>
<path d="M236.12,48.47A129.3,129.3 0 0 1 238.54,51.00L227.93,60.88A114.8,114.8 0 0 0 225.78,58.64Z" fill="#fd9375" stroke="#fd9375" stroke-width="0.45"/>
<path d="M238.16,50.59A129.3,129.3 0 0 1 240.52,53.17L229.68,62.81A114.8,114.8 0 0 0 227.59,60.51Z" fill="#fd9577" stroke="#fd9577" stroke-width="0.45"/>
<path d="M240.14,52.75A129.3,129.3 0 0 1 242.44,55.38L231.39,64.77A114.8,114.8 0 0 0 229.35,62.43Z" fill="#fc997e" stroke="#fc997e" stroke-width="0.45"/>
<path d="M242.07,54.95A129.3,129.3 0 0 1 244.31,57.64L233.05,66.78A114.8,114.8 0 0 0 231.06,64.39Z" fill="#fc9e85" stroke="#fc9e85" stroke-width="0.45"/>
<path d="M243.96,57.20A129.3,129.3 0 0 1 246.14,59.94L234.67,68.82A114.8,114.8 0 0 0 232.74,66.39Z" fill="#fc997d" stroke="#fc997d" stroke-width="0.45"/>
<path d="M245.79,59.49A129.3,129.3 0 0 1 247.91,62.28L236.24,70.89A114.8,114.8 0 0 0 234.36,68.42Z" fill="#fc9a7f" stroke="#fc9a7f" stroke-width="0.45"/>
<path d="M247.57,61.83A129.3,129.3 0 0 1 249.62,64.66L237.77,73.01A114.8,114.8 0 0 0 235.94,70.49Z" fill="#fd8a6a" stroke="#fd8a6a" stroke-width="0.45"/>
<path d="M249.30,64.20A129.3,129.3 0 0 1 251.28,67.08L239.24,75.15A114.8,114.8 0 0 0 237.48,72.60Z" fill="#fca38c" stroke="#fca38c" stroke-width="0.45"/>
<path d="M250.97,66.61A129.3,129.3 0 0 1 252.89,69.53L240.67,77.33A114.8,114.8 0 0 0 238.96,74.74Z" fill="#fd8e6e" stroke="#fd8e6e" stroke-width="0.45"/>
<path d="M252.59,69.06A129.3,129.3 0 0 1 254.44,72.02L242.04,79.54A114.8,114.8 0 0 0 240.40,76.91Z" fill="#fd8b6b" stroke="#fd8b6b" stroke-width="0.45"/>
<path d="M254.15,71.54A129.3,129.3 0 0 1 255.93,74.55L243.37,81.79A114.8,114.8 0 0 0 241.78,79.12Z" fill="#fca189" stroke="#fca189" stroke-width="0.45"/>
<path d="M255.65,74.06A129.3,129.3 0 0 1 257.37,77.11L244.64,84.06A114.8,114.8 0 0 0 243.12,81.35Z" fill="#fd8969" stroke="#fd8969" stroke-width="0.45"/>
<path d="M257.10,76.61A129.3,129.3 0 0 1 258.75,79.70L245.87,86.36A114.8,114.8 0 0 0 244.40,83.62Z" fill="#fd9171" stroke="#fd9171" stroke-width="0.45"/>
<path d="M258.49,79.20A129.3,129.3 0 0 1 260.06,82.32L247.04,88.68A114.8,114.8 0 0 0 245.64,85.91Z" fill="#fd8b6b" stroke="#fd8b6b" stroke-width="0.45"/>
<path d="M259.82,81.81A129.3,129.3 0 0 1 261.32,84.97L248.15,91.04A114.8,114.8 0 0 0 246.82,88.24Z" fill="#fc9e85" stroke="#fc9e85" stroke-width="0.45"/>
<path d="M261.09,84.46A129.3,129.3 0 0 1 262.52,87.65L249.22,93.42A114.8,114.8 0 0 0 247.94,90.58Z" fill="#fc9c83" stroke="#fc9c83" stroke-width="0.45"/>
<path d="M262.30,87.13A129.3,129.3 0 0 1 263.66,90.35L250.23,95.82A114.8,114.8 0 0 0 249.02,92.96Z" fill="#fc9c83" stroke="#fc9c83" stroke-width="0.45"/>
<path d="M263.44,89.83A129.3,129.3 0 0 1 264.73,93.08L251.18,98.24A114.8,114.8 0 0 0 250.04,95.35Z" fill="#fd8b6b" stroke="#fd8b6b" stroke-width="0.45"/>
<path d="M264.53,92.55A129.3,129.3 0 0 1 265.75,95.83L252.08,100.68A114.8,114.8 0 0 0 251.00,97.77Z" fill="#fc987d" stroke="#fc987d" stroke-width="0.45"/>
<path d="M265.56,95.30A129.3,129.3 0 0 1 266.70,98.61L252.93,103.15A114.8,114.8 0 0 0 251.91,100.21Z" fill="#fca087" stroke="#fca087" stroke-width="0.45"/>
<path d="M266.52,98.07A129.3,129.3 0 0 1 267.58,101.40L253.71,105.63A114.8,114.8 0 0 0 252.77,102.67Z" fill="#fc9e86" stroke="#fc9e86" stroke-width="0.45"/>
<path d="M267.42,100.86A129.3,129.3 0 0 1 268.41,104.22L254.44,108.13A114.8,114.8 0 0 0 253.57,105.15Z" fill="#fca48c" stroke="#fca48c" stroke-width="0.45"/>
<path d="M268.25,103.68A129.3,129.3 0 0 1 268.79,105.63L254.79,109.39A114.8,114.8 0 0 0 254.31,107.65Z" fill="#fcac95" stroke="#fcac95" stroke-width="0.45"/>
<path d="M279.20,139.10A135.3,135.3 0 1 1 274.59,104.08" fill="none" stroke="#5a5a5a" stroke-width="7.6" stroke-dasharray="1 1.4" opacity="0.62"/>
<path d="M212.01,142.67A68.2,68.2 0 1 1 209.78,121.45" fill="none" stroke="#2a2a2a" stroke-width="1.3"/>
<path d="M81.50,161.81A66.4,66.4 0 0 1 134.66,73.35" fill="none" stroke="#555" stroke-width="0.8"/>
<path d="M79.15,144.77A65.0,65.0 0 0 1 106.62,85.86" fill="none" stroke="#777" stroke-width="0.6"/>
<path d="M197.83,141.93A54,54 0 0 1 93.16,157.57" fill="none" stroke="#333" stroke-width="1.0"/>
<path d="M197.83,141.93L212.01,142.67" fill="none" stroke="#333" stroke-width="1.0"/>
<path d="M93.16,157.57L83.29,161.16" fill="none" stroke="#333" stroke-width="1.0"/>
<path d="M113.62,196.05A64.5,64.5 0 0 1 83.29,161.16" fill="none" stroke="#444" stroke-width="0.8"/>
<path d="M113.62,196.05L111.88,199.32" fill="none" stroke="#444" stroke-width="0.8"/>
</g>
<text x="227.00" y="125.00" transform="rotate(79 227.00 125.00)" font-family="Liberation Serif" font-size="9.5" fill="#333" text-anchor="middle" dominant-baseline="central">BS</text>
<text x="241.00" y="122.00" transform="rotate(79 241.00 122.00)" font-family="Liberation Serif" font-size="9.5" fill="#333" text-anchor="middle" dominant-baseline="central">BH</text>
<text x="255.20" y="119.20" transform="rotate(79 255.20 119.20)" font-family="Liberation Serif" font-size="9.5" fill="#333" text-anchor="middle" dominant-baseline="central">BR</text>
<text x="269.70" y="114.80" transform="rotate(79 269.70 114.80)" font-family="Liberation Serif" font-size="9.5" fill="#333" text-anchor="middle" dominant-baseline="central">BT</text>
<defs><linearGradient id="mat" x1="0" y1="1" x2="0" y2="0"><stop offset="0.034" stop-color="#0000ff"/><stop offset="0.094" stop-color="#3324ff"/><stop offset="0.155" stop-color="#6858ff"/><stop offset="0.215" stop-color="#9b8bff"/><stop offset="0.276" stop-color="#d1c9ff"/><stop offset="0.336" stop-color="#ffffff"/><stop offset="0.397" stop-color="#fddad1"/><stop offset="0.457" stop-color="#fcc8b8"/><stop offset="0.518" stop-color="#fcb09a"/><stop offset="0.578" stop-color="#fc9a7f"/><stop offset="0.639" stop-color="#fd8464"/><stop offset="0.699" stop-color="#fd6c4c"/><stop offset="0.760" stop-color="#ff5030"/><stop offset="0.820" stop-color="#ff371e"/><stop offset="0.881" stop-color="#ff1c0e"/><stop offset="0.941" stop-color="#ff0000"/></linearGradient></defs>
<text x="132" y="117.6" font-family="Liberation Serif" font-weight="bold" font-size="7.3" fill="#222">mat1</text>
<rect x="131.2" y="120.2" width="9.8" height="47.7" fill="url(#mat)"/>
<path d="M131.2,123h1.6M139.4,123h1.6" stroke="#fff" stroke-width="0.7"/>
<path d="M131.2,137.5h1.6M139.4,137.5h1.6" stroke="#fff" stroke-width="0.7"/>
<path d="M131.2,152h1.6M139.4,152h1.6" stroke="#fff" stroke-width="0.7"/>
<path d="M131.2,166.3h1.6M139.4,166.3h1.6" stroke="#fff" stroke-width="0.7"/>
<text x="143.3" y="125.8" font-family="Liberation Serif" font-size="8" fill="#333">150</text>
<text x="143.3" y="140.3" font-family="Liberation Serif" font-size="8" fill="#333">100</text>
<text x="143.3" y="154.8" font-family="Liberation Serif" font-size="8" fill="#333">50</text>
<text x="143.3" y="169.1" font-family="Liberation Serif" font-size="8" fill="#333">0</text>
</g>
<g id="B">
<defs><linearGradient id="bside" gradientUnits="userSpaceOnUse" x1="438" y1="0" x2="684" y2="0"><stop offset="0" stop-color="#7e9bb8"/><stop offset="0.45" stop-color="#5d7288"/><stop offset="0.7" stop-color="#44556a"/><stop offset="1" stop-color="#3c4a59"/></linearGradient><linearGradient id="gside" gradientUnits="userSpaceOnUse" x1="390" y1="0" x2="414" y2="0"><stop offset="0" stop-color="#5f9c3c"/><stop offset="1" stop-color="#548c34"/></linearGradient></defs>
<path d="M684.50,92.50 L684.48,93.70 L684.41,94.89 L684.41,127.89 L684.48,126.70 L684.50,125.50Z" fill="#c98a63" stroke="#c98a63" stroke-width="0.3"/>
<path d="M684.41,94.89 L684.15,97.25 L683.71,99.60 L683.10,101.95 L682.31,104.28 L681.35,106.60 L680.22,108.90 L678.92,111.19 L677.46,113.45 L675.83,115.68 L674.03,117.89 L672.07,120.07 L669.95,122.22 L667.67,124.33 L665.24,126.40 L662.65,128.43 L659.92,130.42 L657.04,132.36 L654.02,134.26 L650.86,136.11 L647.57,137.90 L644.15,139.64 L640.59,141.33 L636.92,142.96 L633.13,144.52 L629.22,146.03 L625.21,147.47 L621.09,148.85 L616.87,150.16 L612.56,151.40 L608.15,152.57 L603.67,153.67 L599.10,154.69 L594.46,155.65 L589.76,156.53 L584.99,157.33 L580.17,158.05 L575.29,158.70 L570.37,159.27 L565.41,159.75 L560.42,160.16 L555.40,160.49 L550.36,160.74 L545.30,160.90 L540.24,160.99 L535.17,160.99 L530.10,160.91 L525.04,160.75 L520.00,160.51 L514.98,160.19 L509.99,159.79 L505.02,159.31 L500.10,158.75 L495.22,158.11 L490.39,157.39 L485.62,156.59 L480.91,155.72 L476.26,154.77 L471.69,153.75 L467.20,152.66 L462.79,151.49 L458.47,150.26 L454.24,148.95 L450.12,147.58 L446.09,146.15 L442.18,144.65 L438.38,143.08 L438.38,176.08 L442.18,177.65 L446.09,179.15 L450.12,180.58 L454.24,181.95 L458.47,183.26 L462.79,184.49 L467.20,185.66 L471.69,186.75 L476.26,187.77 L480.91,188.72 L485.62,189.59 L490.39,190.39 L495.22,191.11 L500.10,191.75 L505.02,192.31 L509.99,192.79 L514.98,193.19 L520.00,193.51 L525.04,193.75 L530.10,193.91 L535.17,193.99 L540.24,193.99 L545.30,193.90 L550.36,193.74 L555.40,193.49 L560.42,193.16 L565.41,192.75 L570.37,192.27 L575.29,191.70 L580.17,191.05 L584.99,190.33 L589.76,189.53 L594.46,188.65 L599.10,187.69 L603.67,186.67 L608.15,185.57 L612.56,184.40 L616.87,183.16 L621.09,181.85 L625.21,180.47 L629.22,179.03 L633.13,177.52 L636.92,175.96 L640.59,174.33 L644.15,172.64 L647.57,170.90 L650.86,169.11 L654.02,167.26 L657.04,165.36 L659.92,163.42 L662.65,161.43 L665.24,159.40 L667.67,157.33 L669.95,155.22 L672.07,153.07 L674.03,150.89 L675.83,148.68 L677.46,146.45 L678.92,144.19 L680.22,141.90 L681.35,139.60 L682.31,137.28 L683.10,134.95 L683.71,132.60 L684.15,130.25 L684.41,127.89Z" fill="url(#bside)" stroke="url(#bside)" stroke-width="0.3"/>
<path d="M438.38,143.08 L435.11,141.65 L431.94,140.17 L428.86,138.65 L425.89,137.08 L423.02,135.47 L420.26,133.82 L417.60,132.13 L415.06,130.41 L415.06,163.41 L417.60,165.13 L420.26,166.82 L423.02,168.47 L425.89,170.08 L428.86,171.65 L431.94,173.17 L435.11,174.65 L438.38,176.08Z" fill="#d9a300" stroke="#d9a300" stroke-width="0.3"/>
<path d="M415.06,130.41 L413.73,129.46 L412.43,128.49 L412.43,161.49 L413.73,162.46 L415.06,163.41Z" fill="#4f7fae" stroke="#4f7fae" stroke-width="0.3"/>
<path d="M412.43,128.49 L409.84,126.46 L407.39,124.38 L405.10,122.27 L402.98,120.12 L401.01,117.93 L399.20,115.72 L397.56,113.48 L396.09,111.21 L394.79,108.92 L393.65,106.61 L392.69,104.28 L391.90,101.94 L391.29,99.59 L390.85,97.23 L390.59,94.87 L390.50,92.50 L390.50,125.50 L390.59,127.87 L390.85,130.23 L391.29,132.59 L391.90,134.94 L392.69,137.28 L393.65,139.61 L394.79,141.92 L396.09,144.21 L397.56,146.48 L399.20,148.72 L401.01,150.93 L402.98,153.12 L405.10,155.27 L407.39,157.38 L409.84,159.46 L412.43,161.49Z" fill="url(#gside)" stroke="url(#gside)" stroke-width="0.3"/>
<path d="M438.38,143.08L438.38,176.08" stroke="#f4f4f4" stroke-width="0.9"/>
<path d="M415.06,130.41L415.06,163.41" stroke="#f4f4f4" stroke-width="0.9"/>
<path d="M537.0,80.0L537.50,24.00A147.0,68.5 0 0 1 684.41,94.89Z" fill="#f0ad84" stroke="#ffffff" stroke-width="0.7" stroke-linejoin="round"/>
<path d="M537.0,80.0L684.41,94.89A147.0,68.5 0 0 1 438.38,143.08Z" fill="#9dc3e6" stroke="#ffffff" stroke-width="0.7" stroke-linejoin="round"/>
<path d="M537.0,80.0L438.38,143.08A147.0,68.5 0 0 1 415.06,130.41Z" fill="#ffc000" stroke="#ffffff" stroke-width="0.7" stroke-linejoin="round"/>
<path d="M537.0,80.0L415.06,130.41A147.0,68.5 0 0 1 412.43,128.49Z" fill="#5b9bd5" stroke="#ffffff" stroke-width="0.7" stroke-linejoin="round"/>
<path d="M537.0,80.0L412.43,128.49A147.0,68.5 0 0 1 537.50,24.00Z" fill="#70ad47" stroke="#ffffff" stroke-width="0.7" stroke-linejoin="round"/>
<path d="M684.50,92.50A147.0,68.5 0 0 1 390.50,92.50" fill="none" stroke="#f2f2f2" stroke-width="0.8"/>
<text x="551.2" y="63" font-family="Liberation Serif" font-size="13" fill="#404040">347776, 28.45%</text>
<text x="412.2" y="70" font-family="Liberation Serif" font-size="13" fill="#404040">444057, 36.32%</text>
<text x="522.4" y="126.6" font-family="Liberation Serif" font-size="13" fill="#404040">385339, 31.52%</text>
<text x="315.9" y="162.2" font-family="Liberation Serif" font-size="13" fill="#404040">4580, 37.46%</text>
<text x="326" y="194.2" font-family="Liberation Serif" font-size="13" fill="#404040">40479, 3.31%</text>
<text x="376" y="213.6" font-family="Liberation Serif" font-size="13" fill="#404040">389, 0.03%</text>
<path d="M388,163.5L416.8,163.4" fill="none" stroke="#a6a6a6" stroke-width="0.9"/>
<path d="M398,194L428,171.5" fill="none" stroke="#a6a6a6" stroke-width="0.9"/>
<path d="M431,209L441.4,177.4" fill="none" stroke="#a6a6a6" stroke-width="0.9"/>
<rect x="469.5" y="209.2" width="4" height="4" fill="#f0ad84"/>
<text x="476.5" y="215.4" font-family="Liberation Serif" font-size="12" fill="#595959">Exonic</text>
<rect x="597.3" y="209.2" width="4" height="4" fill="#9dc3e6"/>
<text x="604.3" y="215.4" font-family="Liberation Serif" font-size="12" fill="#595959">Intronic</text>
<rect x="469.5" y="229.0" width="4" height="4" fill="#a5a5a5"/>
<text x="476.5" y="235.2" font-family="Liberation Serif" font-size="12" fill="#595959">Splicing</text>
<rect x="597.3" y="229.0" width="4" height="4" fill="#ffc000"/>
<text x="604.3" y="235.2" font-family="Liberation Serif" font-size="12" fill="#595959">Downstream</text>
<rect x="469.5" y="249.0" width="4" height="4" fill="#5b9bd5"/>
<text x="476.5" y="255.2" font-family="Liberation Serif" font-size="12" fill="#595959">upstream/downstream</text>
<rect x="597.3" y="249.0" width="4" height="4" fill="#70ad47"/>
<text x="604.3" y="255.2" font-family="Liberation Serif" font-size="12" fill="#595959">Intergenic</text>
</g>
<g id="C">
<path d="M59.77,516.97L175.87,516.97" stroke="#d4d4d4" stroke-width="0.7" fill="none"/>
<path d="M70.44,505.64L186.54,505.64" stroke="#d4d4d4" stroke-width="0.7" fill="none"/>
<path d="M81.11,494.31L197.21,494.31" stroke="#d4d4d4" stroke-width="0.7" fill="none"/>
<path d="M91.79,482.99L207.89,482.99" stroke="#d4d4d4" stroke-width="0.7" fill="none"/>
<path d="M102.46,471.66L218.56,471.66" stroke="#d4d4d4" stroke-width="0.7" fill="none"/>
<path d="M113.13,460.33L229.23,460.33" stroke="#d4d4d4" stroke-width="0.7" fill="none"/>
<path d="M68.60,528.30L143.30,449.00" stroke="#d4d4d4" stroke-width="0.7" fill="none"/>
<path d="M87.60,528.30L162.30,449.00" stroke="#d4d4d4" stroke-width="0.7" fill="none"/>
<path d="M107.00,528.30L181.70,449.00" stroke="#d4d4d4" stroke-width="0.7" fill="none"/>
<path d="M126.40,528.30L201.10,449.00" stroke="#d4d4d4" stroke-width="0.7" fill="none"/>
<path d="M145.70,528.30L220.40,449.00" stroke="#d4d4d4" stroke-width="0.7" fill="none"/>
<path d="M124,293L239.6,293" stroke="#d8d8d8" stroke-width="0.8" fill="none"/>
<path d="M124,293L124,449L239.6,449" stroke="#a0a0a0" stroke-width="1.0" fill="none"/>
<path d="M239.6,293L239.6,449" stroke="#a0a0a0" stroke-width="1.0" fill="none"/>
<path d="M49.1,373L124,293" stroke="#777" stroke-width="0.9" fill="none"/>
<path d="M49.1,528.3L124,449" stroke="#777" stroke-width="0.9" fill="none"/>
<path d="M165.2,528.3L239.6,449" stroke="#777" stroke-width="0.9" fill="none"/>
<circle cx="49.2" cy="528.3" r="0.9" fill="#555"/>
<circle cx="68.6" cy="528.3" r="0.9" fill="#555"/>
<circle cx="87.6" cy="528.3" r="0.9" fill="#555"/>
<circle cx="107.0" cy="528.3" r="0.9" fill="#555"/>
<circle cx="126.4" cy="528.3" r="0.9" fill="#555"/>
<circle cx="145.7" cy="528.3" r="0.9" fill="#555"/>
<circle cx="165.1" cy="528.3" r="0.9" fill="#555"/>
<circle cx="165.20" cy="528.30" r="0.9" fill="#555"/>
<circle cx="175.87" cy="516.97" r="0.9" fill="#555"/>
<circle cx="186.54" cy="505.64" r="0.9" fill="#555"/>
<circle cx="197.21" cy="494.31" r="0.9" fill="#555"/>
<circle cx="207.89" cy="482.99" r="0.9" fill="#555"/>
<circle cx="218.56" cy="471.66" r="0.9" fill="#555"/>
<circle cx="229.23" cy="460.33" r="0.9" fill="#555"/>
<circle cx="239.90" cy="449.00" r="0.9" fill="#555"/>
<path d="M47,373.0L49.1,373.0" stroke="#555" stroke-width="0.8"/>
<path d="M47,398.88L49.1,398.88" stroke="#555" stroke-width="0.8"/>
<path d="M47,424.76L49.1,424.76" stroke="#555" stroke-width="0.8"/>
<path d="M47,450.64L49.1,450.64" stroke="#555" stroke-width="0.8"/>
<path d="M47,476.52L49.1,476.52" stroke="#555" stroke-width="0.8"/>
<path d="M47,502.4L49.1,502.4" stroke="#555" stroke-width="0.8"/>
<path d="M47,528.28L49.1,528.28" stroke="#555" stroke-width="0.8"/>
<path d="M145.3,379.7L148.2,384.5L142.5,384.5Z" fill="#ff7f0e"/>
<path d="M135.2,375.4L138.0,380.1L132.3,380.1Z" fill="#ff7f0e"/>
<path d="M141.0,387.0L143.8,391.7L138.1,391.7Z" fill="#ff7f0e"/>
<path d="M158.4,382.6L161.2,387.4L155.5,387.4Z" fill="#ff7f0e"/>
<path d="M164.2,392.8L167.1,397.5L161.4,397.5Z" fill="#ff7f0e"/>
<path d="M148.2,397.1L151.1,401.9L145.4,401.9Z" fill="#ff7f0e"/>
<path d="M157.8,399.2L160.7,403.9L155.0,403.9Z" fill="#ff7f0e"/>
<path d="M141.0,417.5L143.8,422.2L138.1,422.2Z" fill="#ff7f0e"/>
<path d="M142.4,421.8L145.3,426.6L139.6,426.6Z" fill="#ff7f0e"/>
<path d="M146.8,416.0L149.6,420.8L143.9,420.8Z" fill="#ff7f0e"/>
<path d="M175.8,371.0L178.7,375.7L173.0,375.7Z" fill="#ff7f0e"/>
<path d="M180.2,375.4L183.0,380.1L177.3,380.1Z" fill="#ff7f0e"/>
<path d="M183.1,379.7L185.9,384.5L180.2,384.5Z" fill="#ff7f0e"/>
<path d="M187.4,378.3L190.3,383.0L184.6,383.0Z" fill="#ff7f0e"/>
<path d="M191.8,376.8L194.6,381.6L188.9,381.6Z" fill="#ff7f0e"/>
<path d="M196.1,376.8L199.0,381.6L193.3,381.6Z" fill="#ff7f0e"/>
<path d="M174.4,379.7L177.2,384.5L171.5,384.5Z" fill="#ff7f0e"/>
<path d="M175.8,387.0L178.7,391.7L173.0,391.7Z" fill="#ff7f0e"/>
<path d="M181.6,385.5L184.5,390.3L178.8,390.3Z" fill="#ff7f0e"/>
<path d="M184.5,391.3L187.4,396.1L181.7,396.1Z" fill="#ff7f0e"/>
<path d="M188.9,388.4L191.7,393.2L186.0,393.2Z" fill="#ff7f0e"/>
<path d="M190.3,394.2L193.2,399.0L187.5,399.0Z" fill="#ff7f0e"/>
<path d="M194.7,397.1L197.5,401.9L191.8,401.9Z" fill="#ff7f0e"/>
<path d="M199.0,398.6L201.9,403.3L196.2,403.3Z" fill="#ff7f0e"/>
<path d="M200.5,397.1L203.3,401.9L197.6,401.9Z" fill="#ff7f0e"/>
<path d="M167.1,395.7L170.0,400.4L164.3,400.4Z" fill="#ff7f0e"/>
<path d="M170.0,401.5L172.9,406.2L167.2,406.2Z" fill="#ff7f0e"/>
<path d="M174.4,402.9L177.2,407.7L171.5,407.7Z" fill="#ff7f0e"/>
<path d="M178.7,404.4L181.6,409.1L175.9,409.1Z" fill="#ff7f0e"/>
<path d="M183.1,402.9L185.9,407.7L180.2,407.7Z" fill="#ff7f0e"/>
<path d="M186.0,401.5L188.8,406.2L183.1,406.2Z" fill="#ff7f0e"/>
<path d="M187.4,405.9L190.3,410.6L184.6,410.6Z" fill="#ff7f0e"/>
<path d="M184.5,410.2L187.4,414.9L181.7,414.9Z" fill="#ff7f0e"/>
<path d="M180.2,408.8L183.0,413.5L177.3,413.5Z" fill="#ff7f0e"/>
<path d="M177.3,413.1L180.1,417.8L174.4,417.8Z" fill="#ff7f0e"/>
<path d="M171.5,410.2L174.3,414.9L168.6,414.9Z" fill="#ff7f0e"/>
<path d="M167.1,407.3L170.0,412.0L164.3,412.0Z" fill="#ff7f0e"/>
<path d="M165.7,413.1L168.5,417.8L162.8,417.8Z" fill="#ff7f0e"/>
<path d="M168.6,418.9L171.4,423.7L165.7,423.7Z" fill="#ff7f0e"/>
<path d="M172.9,418.9L175.8,423.7L170.1,423.7Z" fill="#ff7f0e"/>
<path d="M174.4,423.3L177.2,428.0L171.5,428.0Z" fill="#ff7f0e"/>
<path d="M177.3,427.6L180.1,432.4L174.4,432.4Z" fill="#ff7f0e"/>
<path d="M181.6,429.1L184.5,433.8L178.8,433.8Z" fill="#ff7f0e"/>
<path d="M193.2,420.4L196.1,425.1L190.4,425.1Z" fill="#ff7f0e"/>
<path d="M175.8,439.2L178.7,444.0L173.0,444.0Z" fill="#ff7f0e"/>
<path d="M172.9,442.1L175.8,446.9L170.1,446.9Z" fill="#ff7f0e"/>
<path d="M175.8,448.0L178.7,452.7L173.0,452.7Z" fill="#ff7f0e"/>
<path d="M184.5,450.9L187.4,455.6L181.7,455.6Z" fill="#ff7f0e"/>
<path d="M188.9,453.8L191.7,458.5L186.0,458.5Z" fill="#ff7f0e"/>
<path d="M190.3,459.6L193.2,464.3L187.5,464.3Z" fill="#ff7f0e"/>
<path d="M187.4,463.9L190.3,468.7L184.6,468.7Z" fill="#ff7f0e"/>
<path d="M186.0,458.1L188.8,462.9L183.1,462.9Z" fill="#ff7f0e"/>
<path d="M181.6,323.1L184.5,327.8L178.8,327.8Z" fill="#ff7f0e"/>
<path d="M186.0,324.6L188.8,329.3L183.1,329.3Z" fill="#ff7f0e"/>
<path d="M190.3,326.0L193.2,330.7L187.5,330.7Z" fill="#ff7f0e"/>
<path d="M194.7,323.7L197.5,328.4L191.8,328.4Z" fill="#ff7f0e"/>
<path d="M199.0,321.6L201.9,326.4L196.2,326.4Z" fill="#ff7f0e"/>
<path d="M203.4,320.2L206.3,324.9L200.6,324.9Z" fill="#ff7f0e"/>
<path d="M207.2,319.6L210.0,324.4L204.3,324.4Z" fill="#ff7f0e"/>
<path d="M204.9,324.6L207.7,329.3L202.0,329.3Z" fill="#ff7f0e"/>
<path d="M202.0,328.9L204.8,333.6L199.1,333.6Z" fill="#ff7f0e"/>
<path d="M197.6,330.4L200.4,335.1L194.7,335.1Z" fill="#ff7f0e"/>
<path d="M193.2,333.3L196.1,338.0L190.4,338.0Z" fill="#ff7f0e"/>
<path d="M188.9,331.8L191.7,336.5L186.0,336.5Z" fill="#ff7f0e"/>
<path d="M184.5,330.4L187.4,335.1L181.7,335.1Z" fill="#ff7f0e"/>
<path d="M180.2,334.7L183.0,339.5L177.3,339.5Z" fill="#ff7f0e"/>
<path d="M175.8,339.1L178.7,343.8L173.0,343.8Z" fill="#ff7f0e"/>
<path d="M178.7,343.4L181.6,348.2L175.9,348.2Z" fill="#ff7f0e"/>
<path d="M183.1,344.9L185.9,349.6L180.2,349.6Z" fill="#ff7f0e"/>
<path d="M187.4,340.5L190.3,345.3L184.6,345.3Z" fill="#ff7f0e"/>
<path d="M191.8,339.1L194.6,343.8L188.9,343.8Z" fill="#ff7f0e"/>
<path d="M196.1,334.7L199.0,339.5L193.3,339.5Z" fill="#ff7f0e"/>
<path d="M200.5,333.3L203.3,338.0L197.6,338.0Z" fill="#ff7f0e"/>
<path d="M166.5,339.9L169.4,344.7L163.7,344.7Z" fill="#ff7f0e"/>
<path d="M199.0,347.8L201.9,352.5L196.2,352.5Z" fill="#ff7f0e"/>
<path d="M190.3,346.3L193.2,351.1L187.5,351.1Z" fill="#ff7f0e"/>
<path d="M181.7,322.7L184.6,327.4L178.9,327.4Z" fill="#ff7f0e"/>
<path d="M184.4,323.6L187.3,328.3L181.6,328.3Z" fill="#ff7f0e"/>
<path d="M188.1,321.8L190.9,326.5L185.2,326.5Z" fill="#ff7f0e"/>
<path d="M191.7,324.5L194.5,329.3L188.8,329.3Z" fill="#ff7f0e"/>
<path d="M194.4,323.6L197.3,328.3L191.6,328.3Z" fill="#ff7f0e"/>
<path d="M201.7,324.5L204.5,329.3L198.8,329.3Z" fill="#ff7f0e"/>
<path d="M205.3,319.1L208.1,323.8L202.4,323.8Z" fill="#ff7f0e"/>
<path d="M207.1,320.9L210.0,325.6L204.3,325.6Z" fill="#ff7f0e"/>
<path d="M208.9,324.5L211.8,329.3L206.1,329.3Z" fill="#ff7f0e"/>
<path d="M203.5,322.7L206.3,327.4L200.6,327.4Z" fill="#ff7f0e"/>
<path d="M199.9,325.4L202.7,330.2L197.0,330.2Z" fill="#ff7f0e"/>
<path d="M182.6,328.1L185.5,332.9L179.8,332.9Z" fill="#ff7f0e"/>
<path d="M185.3,331.8L188.2,336.5L182.5,336.5Z" fill="#ff7f0e"/>
<path d="M190.8,329.1L193.6,333.8L187.9,333.8Z" fill="#ff7f0e"/>
<path d="M193.5,331.8L196.4,336.5L190.7,336.5Z" fill="#ff7f0e"/>
<path d="M196.2,333.6L199.1,338.3L193.4,338.3Z" fill="#ff7f0e"/>
<path d="M199.9,332.7L202.7,337.4L197.0,337.4Z" fill="#ff7f0e"/>
<path d="M203.5,332.7L206.3,337.4L200.6,337.4Z" fill="#ff7f0e"/>
<path d="M206.2,335.4L209.1,340.1L203.4,340.1Z" fill="#ff7f0e"/>
<path d="M200.8,336.3L203.6,341.1L197.9,341.1Z" fill="#ff7f0e"/>
<path d="M183.5,334.5L186.4,339.2L180.7,339.2Z" fill="#ff7f0e"/>
<path d="M180.8,336.3L183.6,341.1L177.9,341.1Z" fill="#ff7f0e"/>
<path d="M182.6,339.0L185.5,343.8L179.8,343.8Z" fill="#ff7f0e"/>
<path d="M179.9,342.7L182.7,347.4L177.0,347.4Z" fill="#ff7f0e"/>
<path d="M183.5,342.7L186.4,347.4L180.7,347.4Z" fill="#ff7f0e"/>
<path d="M185.3,346.3L188.2,351.0L182.5,351.0Z" fill="#ff7f0e"/>
<path d="M189.0,343.6L191.8,348.3L186.1,348.3Z" fill="#ff7f0e"/>
<path d="M192.6,340.8L195.4,345.6L189.7,345.6Z" fill="#ff7f0e"/>
<path d="M194.4,344.5L197.3,349.2L191.6,349.2Z" fill="#ff7f0e"/>
<path d="M198.9,348.1L201.8,352.8L196.1,352.8Z" fill="#ff7f0e"/>
<path d="M174.4,342.7L177.3,347.4L171.6,347.4Z" fill="#ff7f0e"/>
<path d="M172.6,346.3L175.5,351.0L169.8,351.0Z" fill="#ff7f0e"/>
<path d="M170.8,348.1L173.7,352.8L168.0,352.8Z" fill="#ff7f0e"/>
<path d="M175.4,349.0L178.2,353.8L172.5,353.8Z" fill="#ff7f0e"/>
<path d="M178.1,351.7L180.9,356.5L175.2,356.5Z" fill="#ff7f0e"/>
<path d="M180.8,353.6L183.6,358.3L177.9,358.3Z" fill="#ff7f0e"/>
<path d="M182.6,357.2L185.5,361.9L179.8,361.9Z" fill="#ff7f0e"/>
<path d="M185.3,355.4L188.2,360.1L182.5,360.1Z" fill="#ff7f0e"/>
<path d="M188.1,354.5L190.9,359.2L185.2,359.2Z" fill="#ff7f0e"/>
<path d="M190.8,358.1L193.6,362.8L187.9,362.8Z" fill="#ff7f0e"/>
<path d="M194.4,353.6L197.3,358.3L191.6,358.3Z" fill="#ff7f0e"/>
<path d="M200.8,359.0L203.6,363.7L197.9,363.7Z" fill="#ff7f0e"/>
<path d="M166.3,339.9L169.1,344.7L163.4,344.7Z" fill="#ff7f0e"/>
<path d="M169.0,351.7L171.9,356.5L166.2,356.5Z" fill="#ff7f0e"/>
<path d="M166.3,353.6L169.1,358.3L163.4,358.3Z" fill="#ff7f0e"/>
<path d="M163.6,356.3L166.4,361.0L160.7,361.0Z" fill="#ff7f0e"/>
<path d="M160.8,357.2L163.7,361.9L158.0,361.9Z" fill="#ff7f0e"/>
<path d="M158.1,359.0L161.0,363.7L155.3,363.7Z" fill="#ff7f0e"/>
<path d="M155.4,359.9L158.2,364.6L152.5,364.6Z" fill="#ff7f0e"/>
<path d="M152.7,361.7L155.5,366.5L149.8,366.5Z" fill="#ff7f0e"/>
<path d="M149.9,364.4L152.8,369.2L147.1,369.2Z" fill="#ff7f0e"/>
<path d="M147.2,365.4L150.1,370.1L144.4,370.1Z" fill="#ff7f0e"/>
<path d="M144.5,367.2L147.4,371.9L141.7,371.9Z" fill="#ff7f0e"/>
<path d="M140.9,369.0L143.7,373.7L138.0,373.7Z" fill="#ff7f0e"/>
<path d="M138.1,369.9L141.0,374.6L135.3,374.6Z" fill="#ff7f0e"/>
<path d="M149.0,367.2L151.9,371.9L146.2,371.9Z" fill="#ff7f0e"/>
<path d="M151.8,365.4L154.6,370.1L148.9,370.1Z" fill="#ff7f0e"/>
<path d="M155.4,362.6L158.2,367.4L152.5,367.4Z" fill="#ff7f0e"/>
<path d="M159.0,361.7L161.9,366.5L156.2,366.5Z" fill="#ff7f0e"/>
<path d="M161.7,361.7L164.6,366.5L158.9,366.5Z" fill="#ff7f0e"/>
<path d="M163.6,359.9L166.4,364.6L160.7,364.6Z" fill="#ff7f0e"/>
<path d="M167.2,358.1L170.0,362.8L164.3,362.8Z" fill="#ff7f0e"/>
<path d="M170.8,359.0L173.7,363.7L168.0,363.7Z" fill="#ff7f0e"/>
<path d="M174.4,361.7L177.3,366.5L171.6,366.5Z" fill="#ff7f0e"/>
<path d="M177.2,365.4L180.0,370.1L174.3,370.1Z" fill="#ff7f0e"/>
<path d="M179.9,364.4L182.7,369.2L177.0,369.2Z" fill="#ff7f0e"/>
<path d="M183.5,363.5L186.4,368.3L180.7,368.3Z" fill="#ff7f0e"/>
<path d="M189.0,364.4L191.8,369.2L186.1,369.2Z" fill="#ff7f0e"/>
<path d="M195.3,365.4L198.2,370.1L192.5,370.1Z" fill="#ff7f0e"/>
<path d="M162.6,369.0L165.5,373.7L159.8,373.7Z" fill="#ff7f0e"/>
<path d="M158.1,368.1L161.0,372.8L155.3,372.8Z" fill="#ff7f0e"/>
<path d="M171.7,356.3L174.6,361.0L168.9,361.0Z" fill="#ff7f0e"/>
<path d="M133.6,374.4L136.5,379.2L130.8,379.2Z" fill="#ff7f0e"/>
<path d="M135.4,378.1L138.3,382.8L132.6,382.8Z" fill="#ff7f0e"/>
<path d="M140.0,374.4L142.8,379.2L137.1,379.2Z" fill="#ff7f0e"/>
<path d="M145.4,379.0L148.3,383.7L142.6,383.7Z" fill="#ff7f0e"/>
<path d="M142.7,386.2L145.5,391.0L139.8,391.0Z" fill="#ff7f0e"/>
<path d="M158.1,382.6L161.0,387.3L155.3,387.3Z" fill="#ff7f0e"/>
<path d="M163.6,372.6L166.4,377.3L160.7,377.3Z" fill="#ff7f0e"/>
<path d="M174.4,371.7L177.3,376.4L171.6,376.4Z" fill="#ff7f0e"/>
<path d="M177.2,378.1L180.0,382.8L174.3,382.8Z" fill="#ff7f0e"/>
<path d="M174.4,381.7L177.3,386.4L171.6,386.4Z" fill="#ff7f0e"/>
<path d="M179.9,383.5L182.7,388.2L177.0,388.2Z" fill="#ff7f0e"/>
<path d="M183.5,386.2L186.4,391.0L180.7,391.0Z" fill="#ff7f0e"/>
<path d="M188.1,380.8L190.9,385.5L185.2,385.5Z" fill="#ff7f0e"/>
<path d="M190.8,386.2L193.6,391.0L187.9,391.0Z" fill="#ff7f0e"/>
<path d="M192.6,371.7L195.4,376.4L189.7,376.4Z" fill="#ff7f0e"/>
<path d="M197.1,377.1L200.0,381.9L194.3,381.9Z" fill="#ff7f0e"/>
<path d="M95.0,398.8L97.3,402.6L92.7,402.6Z" fill="#ff7f0e"/>
<path d="M97.0,397.8L99.3,401.6L94.7,401.6Z" fill="#ff7f0e"/>
<path d="M99.0,396.3L101.3,400.1L96.7,400.1Z" fill="#ff7f0e"/>
<path d="M101.0,395.3L103.3,399.1L98.7,399.1Z" fill="#ff7f0e"/>
<path d="M103.0,393.3L105.3,397.1L100.7,397.1Z" fill="#ff7f0e"/>
<path d="M105.0,391.8L107.3,395.6L102.7,395.6Z" fill="#ff7f0e"/>
<path d="M100.0,397.3L102.3,401.1L97.7,401.1Z" fill="#ff7f0e"/>
<path d="M102.0,396.0L104.3,399.8L99.7,399.8Z" fill="#ff7f0e"/>
<path d="M93.5,401L96,397.5" stroke="#6aa84f" stroke-width="0.9"/>
<path d="M98,399L101.5,396" stroke="#6a8fc6" stroke-width="0.9"/>
<circle cx="122.0" cy="382.6" r="2" fill="none" stroke="#e06666" stroke-width="0.8"/>
<circle cx="141.8" cy="367.3" r="2" fill="none" stroke="#e8a0a0" stroke-width="0.8"/>
<circle cx="182.0" cy="351.0" r="2" fill="none" stroke="#e8a0a0" stroke-width="0.8"/>
<circle cx="183.5" cy="384.4" r="2" fill="none" stroke="#e8a0a0" stroke-width="0.8"/>
<path d="M124.1,376.7L127.1,379.7M127.1,376.7L124.1,379.7" stroke="#b07cd8" stroke-width="0.8"/>
<path d="M114.5,387.7h3M116,386.2v3" stroke="#7ab86a" stroke-width="0.8"/>
<path d="M113,389.5l2,-2" stroke="#7ab86a" stroke-width="0.8"/>
<path d="M107.8,390.9 l3.6,0 l-1.8,3z M107.8,393 l3.6,0 l-1.8,-3z" fill="none" stroke="#3d85c6" stroke-width="0.7"/>
<path d="M140.4,400.7l2.2,-2.2l2.2,2.2l-2.2,2.2z" fill="none" stroke="#999" stroke-width="0.8"/>
<path d="M147,418l3,0M148.5,416.5l0,3" stroke="#ff66cc" stroke-width="0.9"/>
<rect x="165.9" y="374.8" width="3.6" height="3.6" fill="#cc0000" stroke="#cc0000" stroke-width="0.7"/>
<rect x="192.3" y="392.8" width="3.6" height="3.6" fill="#cc0000" stroke="#cc0000" stroke-width="0.7"/>
<rect x="181.3" y="421.9" width="3.6" height="3.6" fill="#cc0000" stroke="#cc0000" stroke-width="0.7"/>
<rect x="189.4" y="446.0" width="3.6" height="3.6" fill="#cc0000" stroke="#cc0000" stroke-width="0.7"/>
<rect x="190.0" y="456.1" width="3.6" height="3.6" fill="#cc0000" stroke="#cc0000" stroke-width="0.7"/>
<rect x="184.2" y="430.9" width="3.6" height="3.6" fill="none" stroke="#b6d7a8" stroke-width="0.7"/>
<rect x="176.2" y="435.2" width="3.6" height="3.6" fill="none" stroke="#b6d7a8" stroke-width="0.7"/>
<path d="M190,438.2l3,0M191.5,436.7l0,3" stroke="#ff66cc" stroke-width="0.9"/>
<circle cx="188.5" cy="450.0" r="2" fill="none" stroke="#b6d7a8" stroke-width="0.8"/>
<path d="M186,456l4,0" stroke="#6aa84f" stroke-width="0.8"/>
<circle cx="189" cy="343.5" r="1.8" fill="#cfe2f3"/>
<path d="M165.2,373L239.6,293" stroke="#7a7a7a" stroke-width="0.95" fill="none"/>
<text x="49.2" y="540.5" text-anchor="middle" font-family="Liberation Sans" font-weight="bold" font-size="4.3" fill="#4a5a88">-0.25</text>
<text x="68.6" y="540.5" text-anchor="middle" font-family="Liberation Sans" font-weight="bold" font-size="4.3" fill="#4a5a88">-0.15</text>
<text x="87.6" y="540.5" text-anchor="middle" font-family="Liberation Sans" font-weight="bold" font-size="4.3" fill="#4a5a88">-0.10</text>
<text x="107.0" y="540.5" text-anchor="middle" font-family="Liberation Sans" font-weight="bold" font-size="4.3" fill="#4a5a88">-0.05</text>
<text x="126.4" y="540.5" text-anchor="middle" font-family="Liberation Sans" font-weight="bold" font-size="4.3" fill="#4a5a88">0.00</text>
<text x="145.7" y="540.5" text-anchor="middle" font-family="Liberation Sans" font-weight="bold" font-size="4.3" fill="#4a5a88">0.05</text>
<text x="165.1" y="540.5" text-anchor="middle" font-family="Liberation Sans" font-weight="bold" font-size="4.3" fill="#4a5a88">0.10</text>
<text x="42.5" y="373.0" text-anchor="middle" transform="rotate(-90 42.5 373.0)" font-family="Liberation Sans" font-weight="bold" font-size="4.3" fill="#4a5a88">0.10</text>
<text x="42.5" y="398.88" text-anchor="middle" transform="rotate(-90 42.5 398.88)" font-family="Liberation Sans" font-weight="bold" font-size="4.3" fill="#4a5a88">0.05</text>
<text x="42.5" y="424.76" text-anchor="middle" transform="rotate(-90 42.5 424.76)" font-family="Liberation Sans" font-weight="bold" font-size="4.3" fill="#4a5a88">0.00</text>
<text x="42.5" y="450.64" text-anchor="middle" transform="rotate(-90 42.5 450.64)" font-family="Liberation Sans" font-weight="bold" font-size="4.3" fill="#4a5a88">-0.05</text>
<text x="42.5" y="476.52" text-anchor="middle" transform="rotate(-90 42.5 476.52)" font-family="Liberation Sans" font-weight="bold" font-size="4.3" fill="#4a5a88">-0.10</text>
<text x="42.5" y="502.4" text-anchor="middle" transform="rotate(-90 42.5 502.4)" font-family="Liberation Sans" font-weight="bold" font-size="4.3" fill="#4a5a88">-0.15</text>
<text x="42.5" y="528.28" text-anchor="middle" transform="rotate(-90 42.5 528.28)" font-family="Liberation Sans" font-weight="bold" font-size="4.3" fill="#4a5a88">-0.20</text>
<text x="171.7" y="529.9" font-family="Liberation Sans" font-weight="bold" font-size="4.3" fill="#4a5a88">-0.20</text>
<text x="182.4" y="518.6" font-family="Liberation Sans" font-weight="bold" font-size="4.3" fill="#4a5a88">-0.15</text>
<text x="193.0" y="507.2" font-family="Liberation Sans" font-weight="bold" font-size="4.3" fill="#4a5a88">-0.10</text>
<text x="203.7" y="495.9" font-family="Liberation Sans" font-weight="bold" font-size="4.3" fill="#4a5a88">-0.05</text>
<text x="214.4" y="484.6" font-family="Liberation Sans" font-weight="bold" font-size="4.3" fill="#4a5a88">0.00</text>
<text x="225.1" y="473.3" font-family="Liberation Sans" font-weight="bold" font-size="4.3" fill="#4a5a88">0.05</text>
<text x="235.7" y="461.9" font-family="Liberation Sans" font-weight="bold" font-size="4.3" fill="#4a5a88">0.10</text>
<text x="246.4" y="450.6" font-family="Liberation Sans" font-weight="bold" font-size="4.3" fill="#4a5a88">0.15</text>
<text x="97" y="549.5" text-anchor="middle" font-family="Liberation Serif" font-weight="bold" font-size="8.5" fill="#222">PC1</text>
<text x="35.6" y="450.5" text-anchor="middle" transform="rotate(-90 35.6 450.5)" font-family="Liberation Serif" font-weight="bold" font-size="8.5" fill="#222">PC2</text>
<text x="253.3" y="431" text-anchor="middle" transform="rotate(-90 253.3 431)" font-family="Liberation Serif" font-weight="bold" font-size="8.5" fill="#222">PC3</text>
<path d="M49.1,373L165.2,373L165.2,528.3L49.1,528.3Z" stroke="#6a6a6a" stroke-width="1.35" fill="none"/>
<text x="276" y="303.7" font-family="Liberation Serif" font-weight="bold" font-size="6" fill="#333">BJ</text>
<text x="276" y="312.4" font-family="Liberation Serif" font-weight="bold" font-size="6" fill="#333">GS</text>
<text x="276" y="321.1" font-family="Liberation Serif" font-weight="bold" font-size="6" fill="#333">HB</text>
<text x="276" y="329.9" font-family="Liberation Serif" font-weight="bold" font-size="6" fill="#333">HK</text>
<text x="276" y="339.1" font-family="Liberation Serif" font-weight="bold" font-size="6" fill="#333">HN</text>
<text x="276" y="348.1" font-family="Liberation Serif" font-weight="bold" font-size="6" fill="#333">its</text>
<text x="276" y="357.5" font-family="Liberation Serif" font-weight="bold" font-size="6" fill="#333">ljs</text>
<text x="276" y="366.1" font-family="Liberation Serif" font-weight="bold" font-size="6" fill="#333">JPN</text>
<text x="276" y="374.9" font-family="Liberation Serif" font-weight="bold" font-size="6" fill="#333">NLD</text>
<text x="276" y="383.7" font-family="Liberation Serif" font-weight="bold" font-size="6" fill="#333">NM</text>
<text x="276" y="393.1" font-family="Liberation Serif" font-weight="bold" font-size="6" fill="#333">NZ</text>
<text x="276" y="402.1" font-family="Liberation Serif" font-weight="bold" font-size="6" fill="#333">QH</text>
<text x="276" y="410.7" font-family="Liberation Serif" font-weight="bold" font-size="6" fill="#333">SD</text>
<text x="276" y="419.4" font-family="Liberation Serif" font-weight="bold" font-size="6" fill="#333">SH</text>
<text x="276" y="428.7" font-family="Liberation Serif" font-weight="bold" font-size="6" fill="#333">SX</text>
<text x="276" y="437.4" font-family="Liberation Serif" font-weight="bold" font-size="6" fill="#333">LJS</text>
<text x="276" y="446.1" font-family="Liberation Serif" font-weight="bold" font-size="6" fill="#333">ZONKY</text>
<circle cx="271.0" cy="301.6" r="2" fill="none" stroke="#e06666" stroke-width="0.8"/>
<path d="M269,311.90000000000003l2,-3.4l2,3.4z" fill="none" stroke="#3d85c6" stroke-width="0.7"/>
<path d="M268.7,319h4.6" stroke="#6aa84f" stroke-width="0.9"/>
<path d="M269.2,326.0l3.6,3.6M272.8,326.0l-3.6,3.6" stroke="#b07cd8" stroke-width="0.8"/>
<circle cx="271" cy="337" r="2" fill="none" stroke="#e69138" stroke-width="0.8"/><path d="M268.5,337h5M271,334.5v5" stroke="#e69138" stroke-width="0.6"/>
<path d="M269,344.4l2,3.4l2,-3.4" fill="none" stroke="#f1c232" stroke-width="0.7"/>
<rect x="269.2" y="353.59999999999997" width="3.6" height="3.6" fill="none" stroke="#a0522d" stroke-width="0.7"/><path d="M269.2,353.59999999999997l3.6,3.6M272.8,353.59999999999997l-3.6,3.6" stroke="#a0522d" stroke-width="0.6"/>
<path d="M269,362.5l4,3M269,365.5l4,-3M269,362.5v3M273,362.5v3" stroke="#ff66cc" stroke-width="0.7"/>
<path d="M268.8,372.8l2.2,-2.2l2.2,2.2l-2.2,2.2z" fill="none" stroke="#999" stroke-width="0.7"/><path d="M268.8,372.8h4.4" stroke="#999" stroke-width="0.6"/>
<path d="M269,382.8l2,-3l2,3z" fill="none" stroke="#cfe2f3" stroke-width="0.7"/>
<rect x="269" y="389" width="4" height="4" fill="none" stroke="#3d85c6" stroke-width="0.8"/><path d="M269.8,391h2.4M271,389.8v2.4" stroke="#3d85c6" stroke-width="0.6"/>
<rect x="269.2" y="398.2" width="3.6" height="3.6" fill="none" stroke="#b6d7a8" stroke-width="0.7"/>
<rect x="269.2" y="406.8" width="3.6" height="3.6" fill="#38a040" stroke="#38a040" stroke-width="0.7"/>
<circle cx="271.0" cy="417.3" r="2" fill="none" stroke="#ea9999" stroke-width="0.8"/>
<rect x="269.2" y="424.8" width="3.6" height="3.6" fill="#cc0000" stroke="#cc0000" stroke-width="0.7"/>
<path d="M269,435.3l2,-2l2,2l-2,2z" fill="#f6b26b"/>
<path d="M271.0,441.8L273.3,445.6L268.7,445.6Z" fill="#ff7f0e"/>
</g>
<g id="D">
<path d="M418.8,491.70L418.8,317.25" stroke="#666" stroke-width="0.9" fill="none"/>
<path d="M414.2,491.70L418.8,491.70" stroke="#666" stroke-width="0.9" fill="none"/>
<text x="408.4" y="491.70" text-anchor="middle" transform="rotate(-90 408.4 491.70)" font-family="Liberation Sans" font-size="7.6" fill="#333">0.00</text>
<path d="M414.2,462.62L418.8,462.62" stroke="#666" stroke-width="0.9" fill="none"/>
<text x="408.4" y="462.62" text-anchor="middle" transform="rotate(-90 408.4 462.62)" font-family="Liberation Sans" font-size="7.6" fill="#333">0.05</text>
<path d="M414.2,433.55L418.8,433.55" stroke="#666" stroke-width="0.9" fill="none"/>
<text x="408.4" y="433.55" text-anchor="middle" transform="rotate(-90 408.4 433.55)" font-family="Liberation Sans" font-size="7.6" fill="#333">0.10</text>
<path d="M414.2,404.47L418.8,404.47" stroke="#666" stroke-width="0.9" fill="none"/>
<text x="408.4" y="404.47" text-anchor="middle" transform="rotate(-90 408.4 404.47)" font-family="Liberation Sans" font-size="7.6" fill="#333">0.15</text>
<path d="M414.2,375.40L418.8,375.40" stroke="#666" stroke-width="0.9" fill="none"/>
<text x="408.4" y="375.40" text-anchor="middle" transform="rotate(-90 408.4 375.40)" font-family="Liberation Sans" font-size="7.6" fill="#333">0.20</text>
<path d="M414.2,346.32L418.8,346.32" stroke="#666" stroke-width="0.9" fill="none"/>
<text x="408.4" y="346.32" text-anchor="middle" transform="rotate(-90 408.4 346.32)" font-family="Liberation Sans" font-size="7.6" fill="#333">0.25</text>
<path d="M414.2,317.25L418.8,317.25" stroke="#666" stroke-width="0.9" fill="none"/>
<text x="408.4" y="317.25" text-anchor="middle" transform="rotate(-90 408.4 317.25)" font-family="Liberation Sans" font-size="7.6" fill="#333">0.30</text>
<path d="M427.40,498.4L651.02,498.4" stroke="#666" stroke-width="0.9" fill="none"/>
<path d="M427.40,498.4L427.40,502" stroke="#666" stroke-width="0.9" fill="none"/>
<text x="427.40" y="513.6" text-anchor="middle" font-family="Liberation Sans" font-size="7.6" fill="#333">0</text>
<path d="M464.67,498.4L464.67,502" stroke="#666" stroke-width="0.9" fill="none"/>
<text x="464.67" y="513.6" text-anchor="middle" font-family="Liberation Sans" font-size="7.6" fill="#333">50</text>
<path d="M501.94,498.4L501.94,502" stroke="#666" stroke-width="0.9" fill="none"/>
<text x="501.94" y="513.6" text-anchor="middle" font-family="Liberation Sans" font-size="7.6" fill="#333">100</text>
<path d="M539.21,498.4L539.21,502" stroke="#666" stroke-width="0.9" fill="none"/>
<text x="539.21" y="513.6" text-anchor="middle" font-family="Liberation Sans" font-size="7.6" fill="#333">150</text>
<path d="M576.48,498.4L576.48,502" stroke="#666" stroke-width="0.9" fill="none"/>
<text x="576.48" y="513.6" text-anchor="middle" font-family="Liberation Sans" font-size="7.6" fill="#333">200</text>
<path d="M613.75,498.4L613.75,502" stroke="#666" stroke-width="0.9" fill="none"/>
<text x="613.75" y="513.6" text-anchor="middle" font-family="Liberation Sans" font-size="7.6" fill="#333">250</text>
<path d="M651.02,498.4L651.02,502" stroke="#666" stroke-width="0.9" fill="none"/>
<text x="651.02" y="513.6" text-anchor="middle" font-family="Liberation Sans" font-size="7.6" fill="#333">300</text>
<text x="514.2" y="531.8" font-family="Liberation Serif" font-weight="bold" font-size="11" fill="#111">Distance(kb)</text>
<text x="489.4" y="313.2" font-family="Liberation Serif" font-weight="bold" font-size="11" fill="#111">LD decay</text>
<text x="646" y="313.4" font-family="Liberation Serif" font-weight="bold" font-size="11" fill="#111">All</text>
<path d="M628,311.4L640.7,311.4" stroke="#e8849c" stroke-width="1"/>
<g transform="rotate(-90 392 405)"><text x="388" y="408.5" font-family="Liberation Serif" font-weight="bold" font-size="10.5" fill="#111">r</text><text x="392.6" y="403.5" font-family="Liberation Serif" font-weight="bold" font-size="6" fill="#111">2</text></g>
<path d="M418.8,433.55L452.45,433.55L452.45,498.4" stroke="#f4a3a3" stroke-width="0.9" fill="none"/>
<path d="M427.40,310.85L427.40,356.38C427.70,359.09 428.42,366.26 429.19,372.61C429.96,378.96 431.00,388.29 432.02,394.47C433.04,400.66 433.85,405.00 435.30,409.71C436.75,414.42 438.75,419.29 440.74,422.73C442.73,426.17 445.23,428.46 447.23,430.35C449.23,432.24 450.01,432.25 452.74,434.07C455.48,435.90 459.28,438.71 463.63,441.28C467.97,443.86 472.57,447.05 478.83,449.54C485.09,452.03 492.13,453.95 501.19,456.23C510.26,458.51 520.82,461.27 533.25,463.21C545.67,465.14 561.57,466.60 575.73,467.86C589.90,469.12 605.80,469.99 618.22,470.77C630.65,471.54 644.93,472.22 650.27,472.51" stroke="#cc5a7a" stroke-width="1.0" fill="none"/>
</g>
</g>
</svg>
</body></html>
